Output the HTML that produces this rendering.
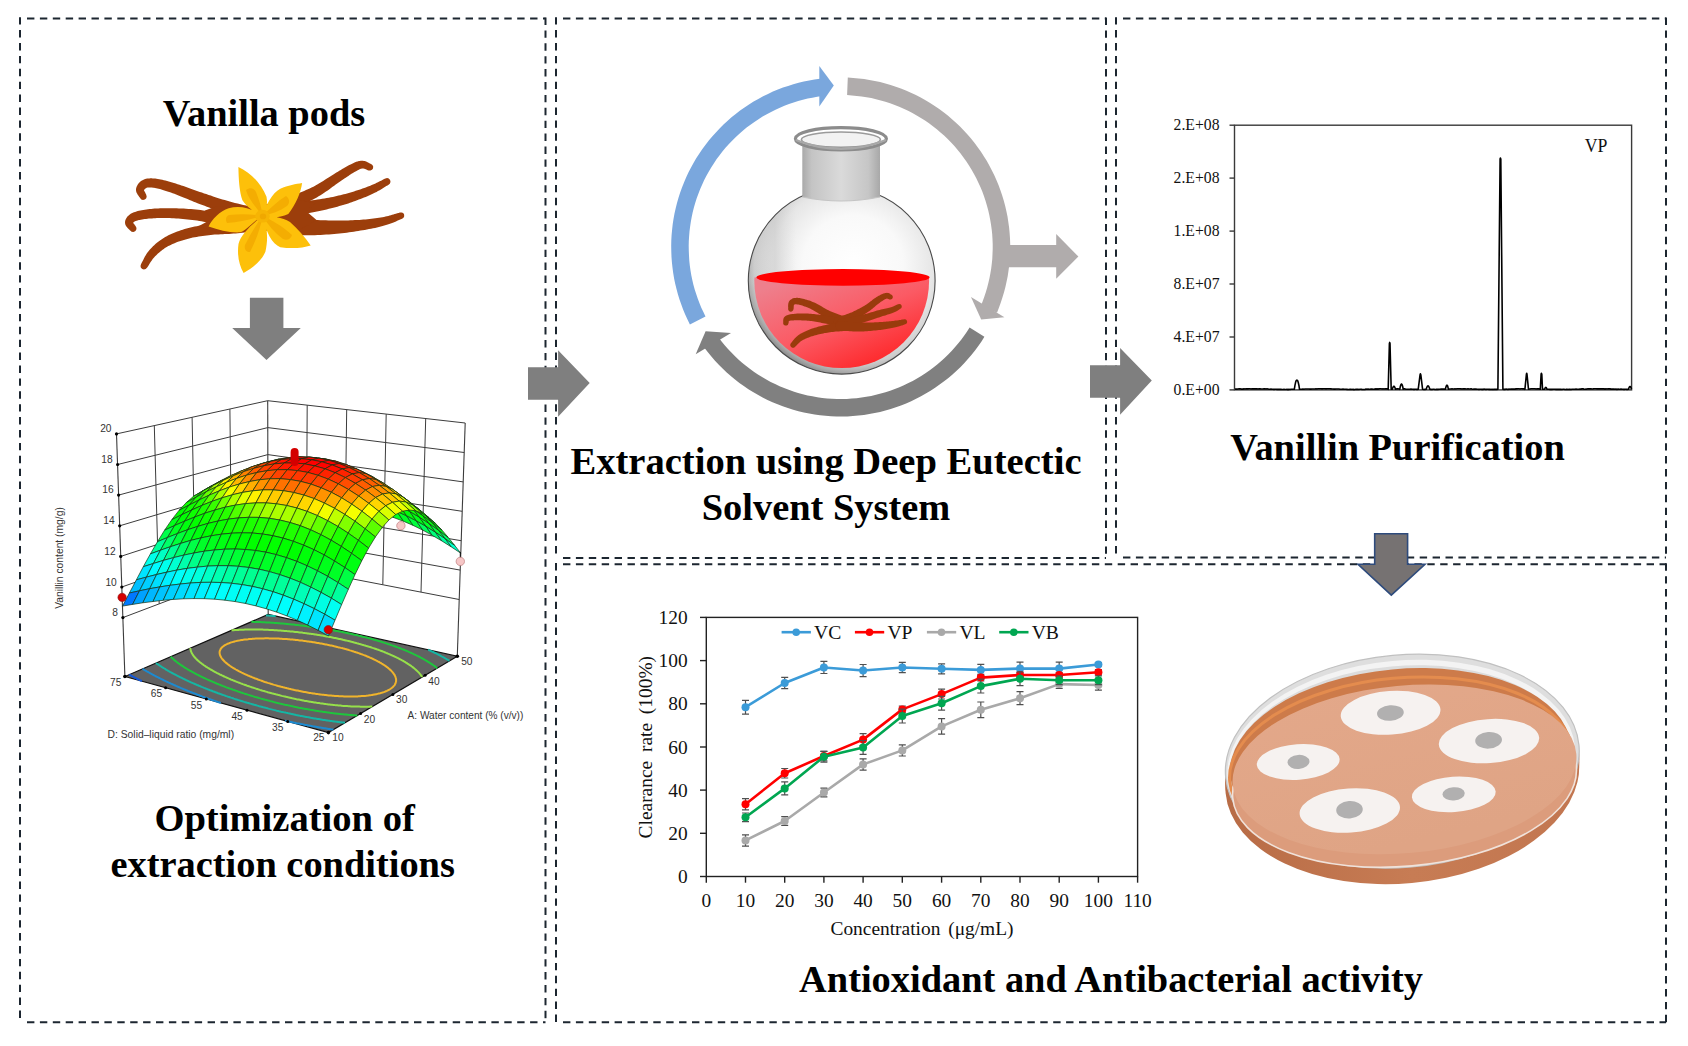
<!DOCTYPE html><html><head><meta charset="utf-8"><title>Vanillin graphical abstract</title><style>html,body{margin:0;padding:0;background:#fff;}body{width:1688px;height:1046px;overflow:hidden;}svg{display:block}</style></head><body>
<svg width="1688" height="1046" viewBox="0 0 1688 1046">
<rect width="1688" height="1046" fill="#fff"/>
<line x1="27" y1="18.5" x2="545.5" y2="18.5" stroke="#1c2630" stroke-width="2" stroke-dasharray="7.4 5.5" stroke-dashoffset="0"/>
<line x1="545.5" y1="17.5" x2="545.5" y2="1022.3" stroke="#1c2630" stroke-width="2" stroke-dasharray="7.4 5.5" stroke-dashoffset="0"/>
<line x1="27" y1="1022.3" x2="545.5" y2="1022.3" stroke="#1c2630" stroke-width="2" stroke-dasharray="7.4 5.5" stroke-dashoffset="0"/>
<line x1="20" y1="17.2" x2="20" y2="1023.3" stroke="#1c2630" stroke-width="2" stroke-dasharray="7.4 5.5" stroke-dashoffset="0"/>
<line x1="563" y1="18.5" x2="1106" y2="18.5" stroke="#1c2630" stroke-width="2" stroke-dasharray="7.4 5.5" stroke-dashoffset="0"/>
<line x1="1106" y1="17.5" x2="1106" y2="558" stroke="#1c2630" stroke-width="2" stroke-dasharray="7.4 5.5" stroke-dashoffset="0"/>
<line x1="563" y1="558" x2="1106" y2="558" stroke="#1c2630" stroke-width="2" stroke-dasharray="7.4 5.5" stroke-dashoffset="0"/>
<line x1="556" y1="17.2" x2="556" y2="559" stroke="#1c2630" stroke-width="2" stroke-dasharray="7.4 5.5" stroke-dashoffset="0"/>
<line x1="1123" y1="18.5" x2="1666" y2="18.5" stroke="#1c2630" stroke-width="2" stroke-dasharray="7.4 5.5" stroke-dashoffset="0"/>
<line x1="1666" y1="17.5" x2="1666" y2="557.5" stroke="#1c2630" stroke-width="2" stroke-dasharray="7.4 5.5" stroke-dashoffset="0"/>
<line x1="1123" y1="557.5" x2="1666" y2="557.5" stroke="#1c2630" stroke-width="2" stroke-dasharray="7.4 5.5" stroke-dashoffset="0"/>
<line x1="1116" y1="17.2" x2="1116" y2="558.5" stroke="#1c2630" stroke-width="2" stroke-dasharray="7.4 5.5" stroke-dashoffset="0"/>
<line x1="563" y1="564.3" x2="1666" y2="564.3" stroke="#1c2630" stroke-width="2" stroke-dasharray="7.4 5.5" stroke-dashoffset="0"/>
<line x1="1666" y1="563.3" x2="1666" y2="1022.3" stroke="#1c2630" stroke-width="2" stroke-dasharray="7.4 5.5" stroke-dashoffset="0"/>
<line x1="563" y1="1022.3" x2="1666" y2="1022.3" stroke="#1c2630" stroke-width="2" stroke-dasharray="7.4 5.5" stroke-dashoffset="0"/>
<line x1="556" y1="563" x2="556" y2="1023.3" stroke="#1c2630" stroke-width="2" stroke-dasharray="7.4 5.5" stroke-dashoffset="0"/>
<text x="264" y="125.6" font-family="'Liberation Serif', 'Times New Roman', serif" font-weight="bold" font-size="38.4" text-anchor="middle" fill="#000">Vanilla pods</text>
<text x="284.6" y="831.2" font-family="'Liberation Serif', 'Times New Roman', serif" font-weight="bold" font-size="38.6" text-anchor="middle" fill="#000">Optimization of</text>
<text x="282.7" y="876.6" font-family="'Liberation Serif', 'Times New Roman', serif" font-weight="bold" font-size="38.4" text-anchor="middle" fill="#000">extraction conditions</text>
<text x="826" y="474" font-family="'Liberation Serif', 'Times New Roman', serif" font-weight="bold" font-size="38.6" text-anchor="middle" fill="#000">Extraction using Deep Eutectic</text>
<text x="826" y="519.8" font-family="'Liberation Serif', 'Times New Roman', serif" font-weight="bold" font-size="38.4" text-anchor="middle" fill="#000">Solvent System</text>
<text x="1397.5" y="460.1" font-family="'Liberation Serif', 'Times New Roman', serif" font-weight="bold" font-size="38.4" text-anchor="middle" fill="#000">Vanillin Purification</text>
<text x="1111" y="992.2" font-family="'Liberation Serif', 'Times New Roman', serif" font-weight="bold" font-size="38.4" text-anchor="middle" fill="#000">Antioxidant and Antibacterial activity</text>
<g id="vanilla">
<path d="M146.3,194.9 L146,194.2 L145.6,193.5 L145.3,192.8 L144.9,192.1 L144.6,191.5 L144.3,191 L144.1,190.5 L143.9,190.2 L143.9,189.9 L143.9,189.8 L143.9,189.9 L144,190.1 L144,190.1 L144.1,190 L144.2,189.8 L144.4,189.5 L144.7,189.2 L145,188.9 L145.3,188.6 L145.6,188.4 L146,188.2 L146.3,188 L146.6,187.8 L147,187.7 L147.4,187.6 L147.9,187.6 L148.4,187.5 L149,187.4 L149.7,187.4 L150.4,187.4 L151.2,187.5 L152,187.6 L153,187.7 L154,187.8 L155,188 L156.2,188.2 L157.4,188.5 L158.6,188.8 L160,189.1 L161.4,189.5 L162.8,190 L164.3,190.4 L165.9,190.9 L167.5,191.5 L169.2,192 L170.9,192.6 L172.6,193.2 L174.4,193.8 L176.1,194.5 L177.9,195.2 L179.7,195.9 L181.6,196.7 L183.5,197.5 L185.5,198.3 L187.5,199.1 L189.5,200 L191.6,200.8 L193.7,201.7 L195.9,202.5 L198.1,203.4 L200.2,204.2 L202.4,205 L204.6,205.8 L206.8,206.7 L209.1,207.5 L211.4,208.4 L213.8,209.3 L216.2,210.1 L218.6,211 L221.1,211.8 L223.7,212.6 L226.3,213.5 L229,214.2 L231.7,215 L234.5,215.8 L237.4,216.5 L240.2,217.3 L243.1,218 L246,218.7 L249,219.4 L251.9,220.1 L254.8,220.9 L257.6,221.6 L260.4,222.3 L263.8,222.2 L266.7,220.5 L268.3,217.6 L268.2,214.2 L266.5,211.3 L263.6,209.7 L260.7,209 L257.8,208.3 L254.9,207.6 L251.9,207 L249,206.3 L246.1,205.6 L243.2,205 L240.4,204.3 L237.6,203.6 L234.9,202.9 L232.3,202.2 L229.7,201.5 L227.2,200.8 L224.8,200.1 L222.4,199.4 L220,198.7 L217.6,197.9 L215.3,197.2 L213.1,196.4 L210.8,195.6 L208.6,194.9 L206.3,194.1 L204.1,193.4 L201.9,192.6 L199.8,191.9 L197.7,191.2 L195.6,190.4 L193.5,189.7 L191.4,189 L189.4,188.2 L187.4,187.5 L185.4,186.8 L183.4,186.1 L181.4,185.4 L179.5,184.8 L177.6,184.2 L175.8,183.6 L174,183 L172.2,182.5 L170.5,182 L168.8,181.5 L167.1,181 L165.4,180.6 L163.8,180.2 L162.3,179.8 L160.7,179.5 L159.3,179.2 L157.8,179 L156.5,178.8 L155.2,178.6 L154,178.5 L152.7,178.4 L151.6,178.3 L150.4,178.3 L149.3,178.4 L148.2,178.5 L147.1,178.6 L146.1,178.8 L145.1,179.1 L144,179.5 L143,179.9 L142,180.5 L141,181.1 L140.2,181.8 L139.4,182.5 L138.7,183.3 L138.1,184.1 L137.5,185 L137,185.9 L136.6,186.8 L136.3,187.8 L136,188.9 L136,190.2 L136.2,191.4 L136.5,192.4 L136.9,193.3 L137.4,194.1 L137.8,194.9 L138.3,195.5 L138.7,196.1 L139.1,196.7 L139.5,197.2 L139.8,197.6 L140.1,198.1 L141.3,199.4 L143,200 L144.8,199.6 L146.1,198.4 L146.7,196.7Z" fill="#9c3e0b"/>
<path d="M135.8,226.4 L135.4,225.8 L134.9,225.2 L134.5,224.6 L134,224 L133.6,223.5 L133.3,223 L133,222.7 L132.8,222.4 L132.8,222.2 L132.8,222.2 L132.9,222.5 L133,222.9 L133,223 L133.1,222.9 L133.1,222.8 L133.3,222.7 L133.4,222.5 L133.6,222.3 L133.9,222.1 L134.2,221.8 L134.6,221.6 L135.1,221.3 L135.6,221.1 L136.2,220.9 L136.9,220.6 L137.7,220.4 L138.7,220.1 L139.7,219.9 L140.8,219.7 L142.1,219.5 L143.3,219.3 L144.7,219.1 L146,218.9 L147.5,218.7 L148.9,218.6 L150.4,218.5 L152,218.4 L153.6,218.3 L155.2,218.2 L156.9,218.1 L158.6,218.1 L160.4,218 L162.2,218 L164,218 L165.9,218 L167.8,218.1 L169.8,218.1 L171.8,218.2 L173.9,218.3 L176.1,218.5 L178.3,218.6 L180.5,218.8 L182.9,219 L185.2,219.2 L187.6,219.5 L189.9,219.7 L192.3,220 L194.7,220.3 L197,220.6 L199.3,221 L201.5,221.3 L203.6,221.7 L205.8,222.2 L208,222.6 L210.2,223.2 L212.4,223.7 L214.7,224.2 L217.1,224.7 L219.6,225.2 L222.1,225.7 L224.7,226.1 L227.4,226.5 L230.1,226.8 L232.9,227 L235.7,227.2 L238.6,227.4 L241.5,227.6 L244.4,227.7 L247.4,227.8 L250.3,228 L253.2,228.1 L256.1,228.2 L258.9,228.3 L261.7,228.5 L265,227.8 L267.5,225.5 L268.5,222.3 L267.8,219 L265.5,216.5 L262.3,215.5 L259.4,215.4 L256.5,215.4 L253.5,215.3 L250.6,215.3 L247.7,215.3 L244.8,215.2 L242,215.2 L239.2,215.1 L236.4,215 L233.7,214.9 L231.1,214.7 L228.6,214.5 L226.2,214.3 L223.9,214 L221.6,213.6 L219.3,213.3 L217.1,212.9 L214.8,212.4 L212.5,212 L210.3,211.5 L207.9,211.1 L205.6,210.7 L203.2,210.4 L200.7,210 L198.3,209.8 L195.9,209.5 L193.4,209.3 L191,209.1 L188.5,208.9 L186,208.8 L183.6,208.6 L181.2,208.5 L178.9,208.4 L176.6,208.3 L174.3,208.2 L172.2,208.2 L170.1,208.2 L168,208.2 L165.9,208.2 L163.9,208.2 L162,208.2 L160.1,208.3 L158.2,208.4 L156.4,208.5 L154.6,208.6 L152.9,208.8 L151.2,208.9 L149.6,209.1 L148,209.3 L146.4,209.5 L144.8,209.7 L143.3,210 L141.8,210.2 L140.4,210.5 L139,210.8 L137.7,211.1 L136.4,211.5 L135.1,211.9 L133.9,212.3 L132.8,212.7 L131.7,213.3 L130.7,213.8 L129.8,214.5 L128.9,215.2 L128.1,215.9 L127.4,216.6 L126.8,217.4 L126.3,218.3 L125.8,219.2 L125.4,220.1 L125.2,221 L125,222.1 L125.1,223.5 L125.4,224.7 L125.9,225.8 L126.4,226.6 L127,227.3 L127.6,227.9 L128.1,228.5 L128.6,229 L129.1,229.4 L129.5,229.8 L129.8,230.2 L130.2,230.6 L131.6,231.7 L133.4,232 L135.1,231.3 L136.2,229.9 L136.5,228.1Z" fill="#9c3e0b"/>
<path d="M147,267.8 L147.7,266.8 L148.4,265.7 L149.1,264.6 L149.7,263.6 L150.3,262.6 L151,261.6 L151.6,260.7 L152.2,259.7 L152.9,258.8 L153.6,258 L154.3,257.2 L155.1,256.3 L156,255.4 L157,254.5 L157.9,253.6 L159,252.7 L160,251.8 L161.1,250.9 L162.2,250 L163.4,249.2 L164.6,248.3 L165.8,247.5 L167.1,246.8 L168.3,246.1 L169.7,245.4 L171.1,244.7 L172.5,244 L174,243.4 L175.6,242.7 L177.2,242.1 L178.8,241.5 L180.5,241 L182.2,240.4 L183.9,239.9 L185.6,239.4 L187.4,238.9 L189.2,238.5 L191,238 L192.8,237.6 L194.7,237.3 L196.7,236.9 L198.6,236.6 L200.6,236.3 L202.6,236 L204.6,235.7 L206.7,235.4 L208.7,235.2 L210.7,235 L212.7,234.8 L214.6,234.6 L216.6,234.5 L218.6,234.4 L220.6,234.3 L222.7,234.2 L224.7,234.1 L226.9,234 L229,233.9 L231.2,233.8 L233.4,233.6 L235.6,233.5 L237.9,233.3 L240.1,233 L242.4,232.8 L244.6,232.6 L246.9,232.3 L249.2,232 L251.5,231.8 L253.8,231.5 L256.1,231.2 L258.3,231 L260.6,230.7 L262.8,230.4 L266,229.2 L268,226.5 L268.4,223.2 L267.2,220 L264.5,218 L261.2,217.6 L258.9,217.9 L256.6,218.2 L254.3,218.6 L252.1,218.9 L249.8,219.3 L247.5,219.7 L245.3,220 L243.1,220.3 L240.8,220.7 L238.7,221 L236.5,221.3 L234.4,221.5 L232.3,221.8 L230.2,222 L228.2,222.2 L226.1,222.4 L224,222.5 L222,222.7 L219.9,222.9 L217.8,223.1 L215.7,223.3 L213.6,223.5 L211.4,223.7 L209.3,224 L207.2,224.4 L205.1,224.7 L203,225 L200.9,225.4 L198.8,225.8 L196.8,226.2 L194.7,226.6 L192.6,227 L190.6,227.5 L188.5,228 L186.6,228.5 L184.6,229.1 L182.7,229.7 L180.8,230.3 L179,230.9 L177.2,231.6 L175.4,232.3 L173.6,233 L171.8,233.8 L170.1,234.5 L168.4,235.3 L166.8,236.2 L165.2,237 L163.7,237.9 L162.2,238.9 L160.7,239.9 L159.3,240.9 L157.9,241.9 L156.6,243 L155.4,244.1 L154.2,245.2 L153,246.3 L151.9,247.4 L150.9,248.5 L149.9,249.6 L148.9,250.7 L147.9,251.9 L147.1,253.1 L146.3,254.3 L145.6,255.4 L144.9,256.6 L144.3,257.8 L143.7,258.9 L143.2,260 L142.7,261.1 L142.1,262.1 L141.6,263.1 L141,264.2 L140.5,265.9 L140.9,267.7 L142.2,269 L143.9,269.5 L145.7,269.1Z" fill="#9c3e0b"/>
<path d="M264.3,219.6 L266.8,218.7 L269.3,217.8 L271.8,216.9 L274.4,215.9 L276.9,215 L279.5,214.1 L282.1,213.1 L284.6,212.2 L287.1,211.3 L289.6,210.3 L292,209.3 L294.3,208.4 L296.6,207.4 L298.8,206.4 L300.9,205.5 L303,204.5 L305,203.5 L307.1,202.5 L309.1,201.5 L311,200.5 L313,199.5 L314.9,198.5 L316.8,197.4 L318.6,196.3 L320.5,195.2 L322.4,194 L324.2,192.8 L326,191.6 L327.7,190.4 L329.4,189.2 L331,188 L332.6,186.8 L334.2,185.7 L335.7,184.6 L337.2,183.5 L338.6,182.5 L340.1,181.5 L341.5,180.5 L343,179.6 L344.4,178.6 L345.7,177.7 L347.1,176.8 L348.4,175.9 L349.6,175.1 L350.8,174.3 L351.9,173.6 L353,172.9 L354,172.3 L355,171.7 L356,171.2 L356.9,170.7 L357.7,170.3 L358.4,169.9 L359.1,169.6 L359.7,169.3 L360.3,169 L360.8,168.8 L361.3,168.7 L361.8,168.6 L362.2,168.5 L362.6,168.4 L362.9,168.4 L363.2,168.5 L363.6,168.5 L364,168.7 L364.5,168.8 L365.1,169 L365.7,169.3 L366.4,169.6 L367.1,169.9 L367.9,170.2 L368.6,170.4 L370.4,170.6 L372,169.8 L373,168.4 L373.2,166.6 L372.4,165 L371,164 L370.4,163.8 L370,163.5 L369.4,163.2 L368.9,162.9 L368.2,162.5 L367.5,162.2 L366.8,161.8 L365.9,161.4 L365,161.1 L364,160.9 L362.9,160.7 L361.8,160.7 L360.7,160.8 L359.7,160.9 L358.8,161.1 L357.8,161.4 L356.9,161.6 L355.9,162 L355,162.3 L354.1,162.8 L353.1,163.2 L352.1,163.7 L351.1,164.2 L350,164.7 L348.8,165.3 L347.5,166 L346.2,166.7 L344.9,167.5 L343.6,168.3 L342.2,169.1 L340.8,170 L339.3,170.8 L337.9,171.7 L336.4,172.6 L334.9,173.5 L333.4,174.5 L331.8,175.4 L330.2,176.4 L328.6,177.5 L326.9,178.5 L325.3,179.6 L323.6,180.7 L321.9,181.7 L320.2,182.8 L318.5,183.8 L316.8,184.8 L315.1,185.8 L313.4,186.7 L311.6,187.6 L309.7,188.4 L307.9,189.3 L306,190.1 L304.1,191 L302.2,191.8 L300.2,192.6 L298.2,193.4 L296.1,194.2 L294,195 L291.9,195.8 L289.7,196.6 L287.4,197.5 L285.1,198.3 L282.7,199.1 L280.3,199.9 L277.8,200.7 L275.2,201.5 L272.7,202.3 L270.1,203.1 L267.5,203.9 L264.9,204.7 L262.3,205.6 L259.7,206.4 L256.7,208.4 L255.1,211.7 L255.4,215.3 L257.4,218.3 L260.7,219.9Z" fill="#9c3e0b"/>
<path d="M263.4,222.9 L266.5,222.2 L269.8,221.5 L273,220.8 L276.3,220 L279.5,219.3 L282.8,218.6 L286,217.9 L289.2,217.2 L292.3,216.6 L295.3,215.9 L298.3,215.3 L301.2,214.6 L303.9,214 L306.6,213.5 L309.3,212.9 L311.9,212.4 L314.5,211.9 L317,211.4 L319.5,210.9 L321.9,210.4 L324.3,209.9 L326.6,209.4 L328.9,208.8 L331.2,208.3 L333.3,207.7 L335.4,207.2 L337.4,206.7 L339.3,206.1 L341.2,205.6 L343,205 L344.8,204.5 L346.5,203.9 L348.3,203.4 L350,202.8 L351.7,202.2 L353.5,201.6 L355.2,200.9 L357,200.3 L358.8,199.6 L360.5,199 L362.3,198.3 L364,197.6 L365.7,196.9 L367.4,196.2 L369,195.5 L370.6,194.8 L372.2,194.1 L373.7,193.3 L375.2,192.6 L376.6,191.9 L377.9,191.1 L379.2,190.4 L380.5,189.7 L381.7,188.9 L382.9,188.2 L384,187.5 L385.2,186.8 L386.3,186.1 L387.5,185.4 L388.6,184.7 L390,183.4 L390.5,181.7 L390.1,180 L388.8,178.6 L387.1,178.1 L385.4,178.5 L384.1,179.1 L382.8,179.8 L381.6,180.4 L380.4,181 L379.2,181.6 L378,182.2 L376.7,182.8 L375.5,183.4 L374.3,184 L373,184.5 L371.7,185.1 L370.3,185.7 L368.8,186.2 L367.3,186.8 L365.8,187.4 L364.2,188 L362.5,188.6 L360.9,189.2 L359.2,189.7 L357.5,190.3 L355.7,190.8 L354,191.4 L352.3,191.9 L350.5,192.4 L348.8,192.9 L347.1,193.4 L345.4,193.9 L343.7,194.3 L342,194.8 L340.3,195.2 L338.5,195.6 L336.7,196.1 L334.8,196.5 L332.9,196.9 L330.9,197.3 L328.8,197.7 L326.7,198.1 L324.5,198.5 L322.2,198.8 L319.9,199.2 L317.5,199.6 L315,199.9 L312.5,200.3 L309.9,200.7 L307.2,201 L304.5,201.5 L301.7,201.9 L298.8,202.4 L295.9,202.9 L292.9,203.4 L289.8,203.9 L286.7,204.5 L283.5,205 L280.2,205.6 L276.9,206.2 L273.6,206.8 L270.4,207.4 L267.1,208 L263.8,208.6 L260.6,209.1 L257.4,210.7 L255.4,213.7 L255.1,217.4 L256.7,220.6 L259.7,222.6Z" fill="#9c3e0b"/>
<path d="M260.9,229.9 L264.1,230.4 L267.2,230.8 L270.4,231.3 L273.6,231.8 L276.8,232.3 L280.1,232.8 L283.3,233.3 L286.6,233.8 L289.8,234.2 L293,234.6 L296.2,234.9 L299.4,235.2 L302.5,235.3 L305.6,235.3 L308.7,235.3 L311.7,235.3 L314.7,235.2 L317.6,235 L320.5,234.9 L323.4,234.7 L326.2,234.6 L328.9,234.4 L331.6,234.2 L334.2,233.9 L336.8,233.7 L339.4,233.5 L341.9,233.2 L344.4,232.9 L346.8,232.7 L349.2,232.3 L351.5,232 L353.8,231.7 L356.1,231.3 L358.3,231 L360.5,230.6 L362.6,230.2 L364.8,229.9 L366.9,229.5 L369,229.1 L371.1,228.7 L373.1,228.3 L375.1,227.9 L377,227.4 L378.9,227 L380.8,226.5 L382.6,226.1 L384.3,225.6 L386,225.1 L387.7,224.6 L389.2,224.1 L390.7,223.6 L392.1,223 L393.5,222.5 L394.7,221.9 L396,221.4 L397.2,220.8 L398.4,220.3 L399.6,219.8 L400.8,219.2 L402.1,218.7 L403.5,217.8 L404.2,216.2 L404.1,214.5 L403.2,213.1 L401.6,212.4 L399.9,212.5 L398.6,212.9 L397.2,213.3 L395.9,213.7 L394.6,214.1 L393.4,214.5 L392.1,214.8 L390.9,215.2 L389.6,215.6 L388.3,215.9 L386.9,216.3 L385.5,216.6 L384,216.9 L382.4,217.2 L380.7,217.5 L379,217.7 L377.2,218 L375.3,218.3 L373.4,218.5 L371.5,218.8 L369.5,219 L367.5,219.2 L365.5,219.4 L363.4,219.6 L361.4,219.8 L359.2,219.9 L357.1,220 L354.9,220.1 L352.7,220.2 L350.5,220.3 L348.2,220.4 L345.9,220.4 L343.6,220.5 L341.2,220.5 L338.8,220.5 L336.3,220.5 L333.8,220.5 L331.2,220.4 L328.5,220.4 L325.8,220.3 L323.1,220.2 L320.4,220.2 L317.6,220.1 L314.8,219.9 L312,219.8 L309.2,219.6 L306.3,219.3 L303.5,219.1 L300.6,218.8 L297.7,218.6 L294.8,218.3 L291.8,218 L288.7,217.6 L285.6,217.2 L282.4,216.8 L279.2,216.3 L276,215.9 L272.8,215.4 L269.5,214.9 L266.3,214.5 L263.1,214.1 L259,214.6 L255.7,217.1 L254.1,220.9 L254.6,225 L257.1,228.3Z" fill="#9c3e0b"/>
<path d="M204.9,210.5 L216,206.5 L262,209 L262,231 L216,231.5 L198,226.5 L212,219 Z" fill="#9c3e0b"/>
<path d="M262,206 L298,199.5 L315.7,203.4 L306,211 L316.8,220.2 L300,229.5 L262,229 Z" fill="#9c3e0b"/>
<path d="M262.5,216 C250,210 246,205 242.4,200.2 C239.5,192 238.6,180 238.4,166.9 C250,172 261,183 266.5,196.7 C268,205 266,211 262.5,216 Z M262.5,216 C266,205 272,193 280.3,188.7 C288,185 296,184 302.1,182.9 C301,192 296,204 288.3,213.9 C280,218 270,218 262.5,216 Z M262.5,216 C272,216 282,217 290,222 C298,229 305,237 310.7,245.5 C303,248 292,249 280.3,247.2 C272,244 266,232 262.5,216 Z M262.5,216 C268,228 268,240 265.4,251.8 C262,260 253,268 243.6,273 C239,265 237,255 238.5,244 C241,234 252,224 262.5,216 Z M262.5,216 C252,222 246,231 240.2,232.3 C230,233 219,230 208.6,226.5 C212,219 220,211 228.7,208.2 C240,205 252,208 262.5,216 Z" fill="#fdc00a"/>
<path d="M262.5,216 C255,206 248,198 246,190 C250,187 254,188 256,192 C259,200 262,208 262.5,216 Z" fill="#f4ad02"/>
<path d="M262.5,216 C270,208 278,201 286,196 C290,199 290,203 287,206 C280,211 271,214 262.5,216 Z" fill="#f4ad02"/>
<path d="M262.5,216 C272,220 282,226 292,235 C291,239 287,241 283,239 C275,233 268,225 262.5,216 Z" fill="#f4ad02"/>
<path d="M262.5,216 C261,227 256,240 250,252 C246,252 244,249 245,245 C250,235 256,225 262.5,216 Z" fill="#f4ad02"/>
<path d="M262.5,216 C252,219 240,222 227,223 C225,220 226,216 229,215 C240,214 252,214 262.5,216 Z" fill="#f4ad02"/>
<ellipse cx="262.5" cy="216.2" rx="7.2" ry="6.4" fill="#f6b404"/>
<ellipse cx="263" cy="216.4" rx="3.2" ry="2.8" fill="#f0a800"/>
</g>
<g id="surf">
<line x1="122.9" y1="617.6" x2="268.1" y2="562.6" stroke="#3c3c3c" stroke-width="1.0"/>
<line x1="268.1" y1="562.6" x2="459.2" y2="599.5" stroke="#3c3c3c" stroke-width="1.0"/>
<line x1="121.8" y1="587" x2="268" y2="535.6" stroke="#3c3c3c" stroke-width="1.0"/>
<line x1="268" y1="535.6" x2="460.2" y2="570.1" stroke="#3c3c3c" stroke-width="1.0"/>
<line x1="120.7" y1="556.4" x2="267.9" y2="508.6" stroke="#3c3c3c" stroke-width="1.0"/>
<line x1="267.9" y1="508.6" x2="461.2" y2="540.7" stroke="#3c3c3c" stroke-width="1.0"/>
<line x1="119.7" y1="525.8" x2="267.9" y2="481.6" stroke="#3c3c3c" stroke-width="1.0"/>
<line x1="267.9" y1="481.6" x2="462.2" y2="511.3" stroke="#3c3c3c" stroke-width="1.0"/>
<line x1="118.6" y1="495.1" x2="267.8" y2="454.6" stroke="#3c3c3c" stroke-width="1.0"/>
<line x1="267.8" y1="454.6" x2="463.2" y2="481.9" stroke="#3c3c3c" stroke-width="1.0"/>
<line x1="117.6" y1="464.5" x2="267.8" y2="427.6" stroke="#3c3c3c" stroke-width="1.0"/>
<line x1="267.8" y1="427.6" x2="464.2" y2="452.5" stroke="#3c3c3c" stroke-width="1.0"/>
<line x1="116.5" y1="433.9" x2="267.7" y2="400.7" stroke="#3c3c3c" stroke-width="1.0"/>
<line x1="267.7" y1="400.7" x2="465.2" y2="423" stroke="#3c3c3c" stroke-width="1.0"/>
<line x1="159.2" y1="603.8" x2="154.3" y2="425.6" stroke="#3c3c3c" stroke-width="1.0"/>
<line x1="195.5" y1="590.1" x2="192.1" y2="417.3" stroke="#3c3c3c" stroke-width="1.0"/>
<line x1="231.8" y1="576.3" x2="229.9" y2="409" stroke="#3c3c3c" stroke-width="1.0"/>
<line x1="306.3" y1="569.9" x2="307.2" y2="405.1" stroke="#3c3c3c" stroke-width="1.0"/>
<line x1="344.5" y1="577.3" x2="346.7" y2="409.6" stroke="#3c3c3c" stroke-width="1.0"/>
<line x1="382.8" y1="584.7" x2="386.2" y2="414.1" stroke="#3c3c3c" stroke-width="1.0"/>
<line x1="421" y1="592.1" x2="425.7" y2="418.6" stroke="#3c3c3c" stroke-width="1.0"/>
<line x1="124.9" y1="676.5" x2="116.5" y2="433.9" stroke="#3c3c3c" stroke-width="1.1"/>
<line x1="268.2" y1="614.5" x2="267.7" y2="400.7" stroke="#3c3c3c" stroke-width="1.1"/>
<line x1="457.3" y1="656.2" x2="465.2" y2="423" stroke="#3c3c3c" stroke-width="1.1"/>
<polygon points="124.9,676.5 328.4,732.6 457.3,656.2 268.2,614.5" fill="#626262" stroke="#111" stroke-width="1.2"/>
<path d="M129.2,674.6 L129.9,675 L130.7,675.4 L131.2,675.7 L131.4,675.8 L132.2,676.2 L132.9,676.6 L133.7,677 L133.7,677 L134.4,677.4 L135.2,677.8 L135.9,678.2 L136.3,678.4 L136.7,678.6 L137.5,679 L138.2,679.4 L139,679.7 L139.1,679.8 L139.8,680.1 L140.6,680.5 L141.3,680.9 L142,681.2" fill="none" stroke="#1458d8" stroke-width="2"/>
<path d="M285,720.6 L285.7,720.8 L286.8,721 L287.9,721.3 L289,721.5 L290.1,721.8 L291.2,722 L292.3,722.2 L293.4,722.5 L294.5,722.7 L295.6,722.9 L296.3,723.1 L296.7,723.2 L297.8,723.4 L298.9,723.6 L300,723.8 L301.1,724.1 L302.3,724.3 L303.4,724.5 L304.5,724.7 L305.3,724.9 L305.6,724.9 L306.8,725.1 L307.9,725.4 L309,725.6 L310.2,725.8 L311.3,726 L312.5,726.2 L313,726.3 L313.6,726.4 L314.7,726.6 L315.9,726.8 L317.1,727 L318.2,727.2 L319.4,727.4 L319.9,727.5 L320.5,727.6 L321.7,727.8 L322.9,728 L324,728.2 L325.2,728.3 L326.2,728.5 L326.4,728.5 L327.5,728.7 L328.7,728.9 L329.9,729.1 L331.1,729.3 L331.9,729.4 L332.3,729.4 L333.5,729.6" fill="none" stroke="#1c8ad0" stroke-width="2"/>
<path d="M142.6,668.8 L143.3,669.3 L144,669.7 L144,669.7 L144.6,670.1 L145.3,670.5 L146,670.9 L146,670.9 L146.7,671.3 L147.5,671.7 L148.1,672.1 L148.2,672.1 L148.9,672.5 L149.6,672.9 L150.3,673.3 L150.3,673.3 L151,673.7 L151.8,674.1 L152.5,674.5 L152.6,674.6 L153.2,674.9 L154,675.3 L154.7,675.7 L155.1,675.9 L155.5,676.1 L156.2,676.5 L157,676.8 L157.7,677.2 L157.7,677.2 L158.5,677.6 L159.3,678 L160,678.4 L160.4,678.6 L160.8,678.8 L161.6,679.2 L162.4,679.5 L163.1,679.9 L163.3,680 L163.9,680.3 L164.7,680.7 L165.5,681.1 L166.3,681.4 L166.4,681.5 L167.1,681.8 L167.9,682.2 L168.7,682.6 L169.5,682.9 L169.7,683 L170.3,683.3 L171.1,683.7 L171.9,684 L172.7,684.4 L173.3,684.7 L173.5,684.8 L174.4,685.1 L175.2,685.5 L176,685.9 L176.9,686.2 L177.1,686.3 L177.7,686.6 L178.5,687 L179.4,687.3 L180.2,687.7 L181,688 L181.2,688.1 L181.9,688.4 L182.7,688.8 L183.6,689.1 L184.4,689.5 L185.3,689.8 L185.8,690 L186.1,690.2 L187,690.5 L187.9,690.9 L188.7,691.2 L189.6,691.6 L190.5,691.9 L190.8,692.1 L191.4,692.3 L192.2,692.6 L193.1,693 L194,693.3 L194.9,693.6 L195.8,694 L196.5,694.3 L196.6,694.3 L197.5,694.7 L198.4,695 L199.3,695.3 L200.2,695.7 L201.1,696 L202,696.4 L202.9,696.7 L203,696.7 L203.8,697 L204.7,697.4 L205.7,697.7 L206.6,698 L207.5,698.3 L208.4,698.7 L209.3,699 L210.3,699.3 L210.8,699.5 L211.2,699.7 L212.1,700 L213,700.3 L214,700.6 L214.9,700.9 L215.8,701.3 L216.8,701.6 L217.7,701.9 L218.7,702.2 L219.6,702.5 L220.6,702.9 L220.9,703" fill="none" stroke="#1c8ad0" stroke-width="2"/>
<path d="M449.4,660.8 L448.8,660.4 L448.2,660 L448.1,660 L447.5,659.6 L446.9,659.3 L446.4,659 L446.2,658.9 L445.5,658.5 L444.9,658.1 L444.5,657.9 L444.2,657.7 L443.5,657.4 L442.9,657 L442.6,656.8 L442.2,656.6 L441.5,656.3 L440.8,655.9 L440.5,655.7 L440.1,655.5 L439.5,655.2 L438.8,654.8 L438.3,654.6 L438.1,654.4 L437.4,654.1 L436.7,653.7 L436,653.4 L436,653.4 L435.3,653 L434.5,652.7 L433.8,652.4 L433.5,652.2 L433.1,652 L432.4,651.7 L431.7,651.3 L431,651 L430.9,651 L430.2,650.7 L429.5,650.3 L428.8,650 L428.1,649.7" fill="none" stroke="#14b6a4" stroke-width="2"/>
<path d="M275.7,616.2 L274.5,616.1 L273.3,616 L272.1,615.9 L271.7,615.8 L270.9,615.8 L269.7,615.7 L268.4,615.6 L267.8,615.6 L267.2,615.5 L265.9,615.5" fill="none" stroke="#14b6a4" stroke-width="2"/>
<path d="M156,663 L156.6,663.5 L157.1,663.8 L157.2,663.9 L157.9,664.3 L158.5,664.8 L158.6,664.8 L159.1,665.2 L159.8,665.6 L160.1,665.8 L160.4,666 L161.1,666.4 L161.7,666.9 L161.8,666.9 L162.4,667.3 L163,667.7 L163.5,668 L163.7,668.1 L164.4,668.5 L165.1,668.9 L165.3,669.1 L165.7,669.4 L166.4,669.8 L167.1,670.2 L167.3,670.3 L167.8,670.6 L168.5,671 L169.2,671.4 L169.3,671.4 L169.9,671.8 L170.6,672.2 L171.4,672.6 L171.5,672.7 L172.1,673 L172.8,673.4 L173.5,673.8 L173.8,673.9 L174.3,674.2 L175,674.5 L175.8,674.9 L176.3,675.2 L176.5,675.3 L177.2,675.7 L178,676.1 L178.8,676.5 L178.9,676.5 L179.5,676.9 L180.3,677.2 L181.1,677.6 L181.7,677.9 L181.8,678 L182.6,678.4 L183.4,678.8 L184.2,679.1 L184.7,679.4 L184.9,679.5 L185.7,679.9 L186.5,680.3 L187.3,680.6 L187.9,680.9 L188.1,681 L188.9,681.4 L189.7,681.7 L190.5,682.1 L191.4,682.5 L191.4,682.5 L192.2,682.8 L193,683.2 L193.8,683.5 L194.6,683.9 L195.2,684.2 L195.5,684.3 L196.3,684.6 L197.1,685 L198,685.3 L198.8,685.7 L199.4,685.9 L199.7,686 L200.5,686.4 L201.3,686.7 L202.2,687.1 L203.1,687.4 L203.9,687.8 L204.1,687.9 L204.8,688.1 L205.6,688.5 L206.5,688.8 L207.4,689.1 L208.2,689.5 L209.1,689.8 L209.4,689.9 L210,690.2 L210.9,690.5 L211.8,690.8 L212.6,691.2 L213.5,691.5 L214.4,691.8 L215.3,692.2 L215.6,692.3 L216.2,692.5 L217.1,692.8 L218,693.2 L218.9,693.5 L219.8,693.8 L220.7,694.1 L221.7,694.5 L222.6,694.8 L223.1,695 L223.5,695.1 L224.4,695.4 L225.3,695.7 L226.3,696.1 L227.2,696.4 L228.1,696.7 L229.1,697 L230,697.3 L230.9,697.6 L231.9,697.9 L232.8,698.3 L233.1,698.3 L233.8,698.6 L234.7,698.9 L235.7,699.2 L236.6,699.5 L237.6,699.8 L238.5,700.1 L239.5,700.4 L240.5,700.7 L241.4,701 L242.4,701.3 L243.4,701.6 L244.3,701.9 L245.3,702.2 L246.3,702.5 L247.3,702.8 L248.3,703 L249.2,703.3 L250.2,703.6 L251.2,703.9 L252.2,704.2 L253.2,704.5 L253.4,704.5 L254.2,704.8 L255.2,705 L256.2,705.3 L257.2,705.6 L258.2,705.9 L259.2,706.2 L260.3,706.4 L261.3,706.7 L262.3,707 L263.3,707.3 L264.3,707.5 L265.4,707.8 L265.8,707.9 L266.4,708.1 L267.4,708.3 L268.4,708.6 L269.5,708.9 L270.5,709.1 L271.6,709.4 L272.6,709.6 L273.6,709.9 L274.7,710.1 L275.7,710.4 L276.8,710.7 L277.9,710.9 L278.9,711.2 L280,711.4 L281,711.7 L282.1,711.9 L283.2,712.1 L284.2,712.4 L285.3,712.6 L286.4,712.9 L287.3,713.1 L287.5,713.1 L288.5,713.4 L289.6,713.6 L290.7,713.8 L291.8,714.1 L292.9,714.3 L294,714.5 L295.1,714.7 L296.2,715 L297.3,715.2 L298.4,715.4 L298.5,715.4 L299.5,715.6 L300.6,715.9 L301.7,716.1 L302.8,716.3 L304,716.5 L305.1,716.7 L306.2,716.9 L307.2,717.1 L307.3,717.1 L308.5,717.3 L309.6,717.5 L310.7,717.8 L311.9,718 L313,718.2 L314.2,718.4 L314.6,718.4 L315.3,718.5 L316.4,718.7 L317.6,718.9 L318.8,719.1 L319.9,719.3 L321.1,719.5 L321.1,719.5 L322.2,719.7 L323.4,719.9 L324.6,720 L325.8,720.2 L326.9,720.4 L327,720.4 L328.1,720.6 L329.3,720.7 L330.5,720.9 L331.7,721.1 L332.4,721.2 L332.9,721.2 L334.1,721.4 L335.3,721.6 L336.5,721.7 L337.4,721.8 L337.7,721.9 L338.9,722 L340.1,722.2 L341.3,722.3 L342.1,722.4 L342.6,722.5 L343.8,722.6 L345,722.7" fill="none" stroke="#14b6a4" stroke-width="2"/>
<path d="M437.2,668.1 L437.1,668.1 L436.6,667.7 L436,667.2 L435.9,667.2 L435.4,666.8 L434.9,666.3 L434.7,666.2 L434.3,665.9 L433.7,665.5 L433.3,665.2 L433.1,665 L432.5,664.6 L431.9,664.3 L431.9,664.2 L431.2,663.8 L430.6,663.4 L430.4,663.3 L430,663 L429.4,662.6 L428.9,662.2 L428.7,662.2 L428.1,661.8 L427.4,661.4 L427.2,661.2 L426.8,661 L426.1,660.6 L425.5,660.2 L425.4,660.1 L424.8,659.8 L424.1,659.4 L423.5,659.1 L423.5,659.1 L422.8,658.7 L422.1,658.3 L421.5,658 L421.4,657.9 L420.7,657.6 L420.1,657.2 L419.4,656.8 L419.3,656.8 L418.7,656.5 L418,656.1 L417.3,655.8 L417,655.6 L416.5,655.4 L415.8,655.1 L415.1,654.7 L414.5,654.4 L414.4,654.4 L413.7,654.1 L412.9,653.7 L412.2,653.4 L411.8,653.2 L411.5,653 L410.7,652.7 L410,652.4 L409.3,652.1 L408.9,651.9 L408.5,651.7 L407.8,651.4 L407,651.1 L406.2,650.8 L405.7,650.5 L405.5,650.4 L404.7,650.1 L404,649.8 L403.2,649.5 L402.4,649.2 L402.2,649.1 L401.6,648.9 L400.9,648.6 L400.1,648.3 L399.3,648 L398.5,647.7 L398.3,647.6 L397.7,647.4 L396.9,647.1 L396.1,646.8 L395.3,646.5 L394.5,646.2 L393.8,646 L393.7,645.9 L392.9,645.6 L392.1,645.4 L391.3,645.1 L390.5,644.8 L389.6,644.5 L388.8,644.2 L388.7,644.2 L388,644 L387.2,643.7 L386.3,643.4 L385.5,643.1 L384.6,642.9 L383.8,642.6 L383,642.3 L382.4,642.2 L382.1,642.1 L381.3,641.8 L380.4,641.6 L379.6,641.3 L378.7,641 L377.8,640.8 L377,640.5 L376.1,640.3 L375.2,640 L374.4,639.8 L374.1,639.7 L373.5,639.5 L372.6,639.3 L371.7,639 L370.9,638.8 L370,638.6 L369.1,638.3 L368.2,638.1 L367.3,637.8 L366.4,637.6 L365.5,637.4 L364.6,637.1 L363.7,636.9 L362.8,636.7 L361.9,636.5 L361,636.2 L360.1,636 L359.1,635.8 L358.7,635.7 L358.2,635.6 L357.3,635.3 L356.4,635.1 L355.4,634.9 L354.5,634.7 L353.6,634.5 L352.6,634.3 L351.7,634 L350.7,633.8 L349.8,633.6 L348.8,633.4 L347.9,633.2 L346.9,633 L346,632.8 L345,632.6 L344,632.4 L343.1,632.2 L342.6,632.1 L342.1,632 L341.1,631.8 L340.1,631.6 L339.2,631.4 L338.2,631.2 L337.2,631.1 L336.2,630.9 L335.2,630.7 L334.2,630.5 L333.2,630.3 L332.2,630.1 L331.2,629.9 L330.2,629.8 L329.2,629.6 L328.2,629.4 L327.1,629.2 L326.1,629.1 L325.9,629 L325.1,628.9 L324.1,628.7 L323,628.6 L322,628.4 L320.9,628.2 L319.9,628.1 L318.9,627.9 L317.8,627.7 L316.7,627.6 L316.3,627.5 L315.7,627.4 L314.6,627.3 L313.6,627.1 L312.5,627 L311.4,626.8 L310.3,626.7 L309.3,626.5 L308.8,626.5 L308.2,626.4 L307.1,626.2 L306,626.1 L304.9,625.9 L303.8,625.8 L302.7,625.7 L302.4,625.6 L301.6,625.5 L300.4,625.4 L299.3,625.3 L298.2,625.1 L297.1,625 L296.7,625 L295.9,624.9 L294.8,624.7 L293.7,624.6 L292.5,624.5 L291.5,624.4 L291.4,624.4 L290.2,624.3 L289,624.2 L287.9,624 L286.7,623.9 L286.7,623.9 L285.5,623.8 L284.3,623.7 L283.2,623.6 L282.2,623.5 L282,623.5 L280.8,623.4 L279.6,623.3 L278.3,623.2 L278.1,623.2 L277.1,623.1 L275.9,623 L274.7,622.9 L274.1,622.9 L273.4,622.8 L272.2,622.8 L270.9,622.7 L270.4,622.6 L269.7,622.6 L268.4,622.5 L267.2,622.5 L266.8,622.4 L265.9,622.4 L264.6,622.3 L263.3,622.3 L263.3,622.2 L262,622.2 L260.7,622.1 L260,622.1 L259.4,622.1 L258,622 L256.9,622 L256.7,622 L255.4,621.9 L254,621.9 L253.8,621.9 L252.6,621.8 L251.3,621.8" fill="none" stroke="#1ec63c" stroke-width="2"/>
<path d="M170.7,656.7 L170.8,656.8 L171.2,657.2 L171.7,657.6 L171.7,657.6 L172.2,658.1 L172.6,658.5 L172.7,658.6 L173.2,659 L173.6,659.4 L173.7,659.5 L174.2,660 L174.6,660.3 L174.8,660.4 L175.3,660.9 L175.7,661.2 L175.9,661.3 L176.5,661.8 L176.9,662.1 L177.1,662.2 L177.6,662.7 L178.2,663.1 L178.2,663.1 L178.8,663.5 L179.4,664 L179.5,664.1 L180,664.4 L180.7,664.8 L181,665.1 L181.3,665.3 L181.9,665.7 L182.5,666.1 L182.6,666.1 L183.2,666.5 L183.8,667 L184.1,667.1 L184.5,667.4 L185.2,667.8 L185.8,668.2 L185.9,668.2 L186.5,668.6 L187.2,669 L187.7,669.4 L187.9,669.4 L188.6,669.8 L189.2,670.2 L189.7,670.5 L189.9,670.6 L190.6,671 L191.4,671.4 L191.8,671.7 L192.1,671.8 L192.8,672.2 L193.5,672.6 L194.1,672.9 L194.2,673 L195,673.4 L195.7,673.8 L196.4,674.2 L196.5,674.2 L197.2,674.6 L197.9,674.9 L198.7,675.3 L199.1,675.6 L199.5,675.7 L200.2,676.1 L201,676.5 L201.8,676.8 L202,676.9 L202.5,677.2 L203.3,677.6 L204.1,678 L204.9,678.3 L205.1,678.4 L205.7,678.7 L206.5,679.1 L207.3,679.4 L208.1,679.8 L208.5,680 L208.9,680.1 L209.7,680.5 L210.5,680.9 L211.3,681.2 L212.1,681.6 L212.2,681.6 L213,681.9 L213.8,682.3 L214.6,682.6 L215.5,683 L216.3,683.3 L216.4,683.4 L217.1,683.7 L218,684 L218.8,684.4 L219.7,684.7 L220.6,685 L221.2,685.3 L221.4,685.4 L222.3,685.7 L223.1,686.1 L224,686.4 L224.9,686.7 L225.8,687.1 L226.6,687.4 L226.7,687.4 L227.5,687.7 L228.4,688 L229.3,688.4 L230.2,688.7 L231.1,689 L232,689.3 L232.9,689.7 L233.5,689.9 L233.8,690 L234.7,690.3 L235.6,690.6 L236.5,690.9 L237.4,691.2 L238.4,691.6 L239.3,691.9 L240.2,692.2 L241.1,692.5 L242.1,692.8 L242.6,693 L243,693.1 L243.9,693.4 L244.9,693.7 L245.8,694 L246.8,694.3 L247.7,694.6 L248.7,694.9 L249.6,695.2 L250.6,695.5 L251.5,695.8 L252.5,696.1 L253.5,696.4 L254.4,696.7 L255.4,697 L256.4,697.2 L257.4,697.5 L258.3,697.8 L259.3,698.1 L260.3,698.4 L260.9,698.6 L261.3,698.7 L262.3,698.9 L263.3,699.2 L264.3,699.5 L265.3,699.8 L266.3,700 L267.3,700.3 L268.3,700.6 L269.3,700.8 L270.3,701.1 L271.4,701.4 L272.4,701.6 L272.8,701.7 L273.4,701.9 L274.4,702.2 L275.5,702.4 L276.5,702.7 L277.5,702.9 L278.6,703.2 L279.6,703.4 L280.7,703.7 L281.7,703.9 L282.8,704.2 L283.8,704.4 L284.9,704.7 L285.9,704.9 L287,705.1 L288.1,705.4 L289.1,705.6 L290.2,705.8 L291.3,706.1 L292.3,706.3 L292.4,706.3 L293.4,706.5 L294.5,706.8 L295.6,707 L296.7,707.2 L297.8,707.4 L298.9,707.7 L300,707.9 L301.1,708.1 L302.2,708.3 L302.6,708.4 L303.3,708.5 L304.4,708.7 L305.6,708.9 L306.7,709.1 L307.8,709.3 L308.9,709.5 L310.1,709.7 L310.6,709.8 L311.2,709.9 L312.3,710.1 L313.5,710.3 L314.6,710.5 L315.8,710.7 L316.9,710.9 L317.4,711 L318.1,711.1 L319.2,711.3 L320.4,711.4 L321.6,711.6 L322.7,711.8 L323.4,711.9 L323.9,712 L325.1,712.1 L326.3,712.3 L327.5,712.5 L328.6,712.6 L328.8,712.6 L329.8,712.8 L331,712.9 L332.2,713.1 L333.4,713.2 L333.7,713.3 L334.7,713.4 L335.9,713.5 L337.1,713.7 L338.3,713.8 L338.3,713.8 L339.6,713.9 L340.8,714.1 L342,714.2 L342.6,714.3 L343.3,714.3 L344.5,714.4 L345.8,714.6 L346.7,714.6 L347,714.7 L348.3,714.8 L349.6,714.9 L350.5,715 L350.8,715 L352.1,715.1 L353.4,715.2 L354.2,715.3 L354.7,715.3 L356,715.4 L357.3,715.5" fill="none" stroke="#1ec63c" stroke-width="2"/>
<path d="M422.2,677 L421.9,676.5 L421.8,676.4 L421.4,675.9 L421.3,675.7 L421,675.3 L420.7,674.9 L420.6,674.7 L420.2,674.2 L420.1,674.1 L419.7,673.7 L419.4,673.3 L419.3,673.1 L418.8,672.6 L418.6,672.4 L418.3,672.1 L417.8,671.6 L417.8,671.6 L417.3,671.1 L416.9,670.7 L416.8,670.6 L416.3,670.2 L415.9,669.8 L415.8,669.7 L415.2,669.2 L414.9,668.9 L414.7,668.7 L414.1,668.3 L413.8,668 L413.6,667.8 L413,667.4 L412.6,667 L412.4,666.9 L411.8,666.5 L411.3,666.1 L411.2,666.1 L410.6,665.6 L410,665.2 L409.9,665.1 L409.4,664.8 L408.8,664.4 L408.4,664.1 L408.2,664 L407.5,663.6 L406.9,663.2 L406.8,663.1 L406.3,662.8 L405.6,662.4 L405.1,662 L405,662 L404.3,661.6 L403.6,661.2 L403.2,661 L403,660.8 L402.3,660.4 L401.6,660.1 L401.2,659.8 L400.9,659.7 L400.2,659.3 L399.5,659 L399,658.7 L398.8,658.6 L398.1,658.2 L397.4,657.9 L396.7,657.5 L396.6,657.5 L396,657.2 L395.3,656.8 L394.5,656.5 L394,656.3 L393.8,656.2 L393.1,655.8 L392.3,655.5 L391.6,655.1 L391.2,655 L390.8,654.8 L390.1,654.5 L389.3,654.2 L388.6,653.8 L388,653.6 L387.8,653.5 L387,653.2 L386.2,652.9 L385.5,652.6 L384.7,652.3 L384.4,652.1 L383.9,651.9 L383.1,651.6 L382.3,651.3 L381.5,651 L380.7,650.7 L380.3,650.6 L379.9,650.4 L379.1,650.1 L378.3,649.8 L377.5,649.6 L376.7,649.3 L375.9,649 L375.4,648.8 L375,648.7 L374.2,648.4 L373.4,648.1 L372.5,647.9 L371.7,647.6 L370.9,647.3 L370,647 L369.3,646.8 L369.2,646.8 L368.3,646.5 L367.5,646.2 L366.6,646 L365.7,645.7 L364.9,645.4 L364,645.2 L363.1,644.9 L362.2,644.7 L361.4,644.4 L360.8,644.3 L360.5,644.2 L359.6,643.9 L358.7,643.7 L357.8,643.4 L356.9,643.2 L356,642.9 L355.1,642.7 L354.2,642.5 L353.3,642.2 L352.4,642 L351.5,641.8 L350.5,641.5 L349.6,641.3 L348.7,641.1 L347.8,640.9 L346.8,640.6 L345.9,640.4 L344.9,640.2 L344,640 L343,639.8 L342.1,639.5 L341.1,639.3 L340.2,639.1 L339.2,638.9 L338.2,638.7 L337.3,638.5 L336.3,638.3 L335.3,638.1 L334.3,637.9 L333.3,637.7 L332.3,637.5 L331.4,637.3 L330.4,637.1 L329.4,636.9 L328.3,636.7 L327.3,636.5 L326.3,636.4 L325.3,636.2 L324.3,636 L324,636 L323.3,635.8 L322.2,635.6 L321.2,635.5 L320.2,635.3 L319.1,635.1 L318.1,635 L317,634.8 L316,634.6 L314.9,634.5 L314.2,634.3 L313.8,634.3 L312.8,634.1 L311.7,634 L310.6,633.8 L309.5,633.7 L308.4,633.5 L307.4,633.4 L306.9,633.3 L306.3,633.2 L305.1,633.1 L304,632.9 L302.9,632.8 L301.8,632.6 L300.7,632.5 L300.7,632.5 L299.6,632.4 L298.4,632.2 L297.3,632.1 L296.1,632 L295.3,631.9 L295,631.9 L293.8,631.7 L292.7,631.6 L291.5,631.5 L290.5,631.4 L290.3,631.4 L289.1,631.3 L288,631.2 L286.8,631.1 L286,631 L285.6,631 L284.3,630.9 L283.1,630.8 L281.9,630.7 L281.9,630.7 L280.7,630.6 L279.4,630.5 L278.2,630.4 L278.1,630.4 L276.9,630.3 L275.7,630.2 L274.4,630.2 L274.4,630.2 L273.1,630.1 L271.8,630 L271,630 L270.5,629.9 L269.2,629.9 L267.9,629.8 L267.7,629.8 L266.6,629.8 L265.2,629.7 L264.6,629.7 L263.9,629.7 L262.5,629.6 L261.6,629.6 L261.2,629.6 L259.8,629.6 L258.8,629.6 L258.4,629.6 L257,629.5 L256,629.5 L255.5,629.5 L254.1,629.5 L253.4,629.5 L252.6,629.5 L251.1,629.5 L250.8,629.5 L249.7,629.5 L248.4,629.5 L248.1,629.6 L246.6,629.6 L246,629.6 L245,629.6 L243.7,629.7 L243.5,629.7 L241.9,629.7 L241.5,629.7 L240.2,629.8 L239.3,629.8 L238.6,629.9 L237.2,629.9 L236.9,630 L235.2,630.1 L235.1,630.1 L233.4,630.2 L233.2,630.2 L231.5,630.3" fill="none" stroke="#96e04a" stroke-width="2"/>
<path d="M190.4,648.1 L190.4,648.2 L190.4,648.8 L190.5,648.9 L190.5,649.4 L190.5,649.5 L190.7,650.1 L190.7,650.2 L190.8,650.7 L190.8,650.8 L191,651.3 L191.1,651.5 L191.2,651.9 L191.4,652.2 L191.5,652.4 L191.7,652.9 L191.7,653 L192,653.5 L192.1,653.6 L192.4,654.1 L192.5,654.3 L192.7,654.6 L193,655.1 L193.1,655.2 L193.4,655.7 L193.5,655.8 L193.8,656.2 L194.1,656.6 L194.2,656.7 L194.7,657.2 L194.8,657.4 L195.1,657.7 L195.6,658.2 L195.6,658.2 L196,658.7 L196.4,659 L196.5,659.2 L197,659.7 L197.2,659.9 L197.5,660.1 L198,660.6 L198.2,660.8 L198.5,661.1 L199.1,661.5 L199.2,661.6 L199.6,662 L200.2,662.4 L200.3,662.6 L200.8,662.9 L201.3,663.3 L201.6,663.5 L201.9,663.8 L202.5,664.2 L202.9,664.5 L203.1,664.6 L203.7,665.1 L204.3,665.5 L204.3,665.5 L205,665.9 L205.6,666.4 L205.8,666.5 L206.2,666.8 L206.9,667.2 L207.4,667.5 L207.5,667.6 L208.2,668 L208.9,668.4 L209.2,668.6 L209.5,668.8 L210.2,669.2 L210.9,669.6 L211.1,669.8 L211.6,670 L212.3,670.4 L213,670.8 L213.2,671 L213.7,671.2 L214.4,671.6 L215.2,672 L215.5,672.2 L215.9,672.4 L216.6,672.8 L217.4,673.2 L218,673.5 L218.1,673.5 L218.9,673.9 L219.6,674.3 L220.4,674.7 L220.7,674.8 L221.2,675 L221.9,675.4 L222.7,675.8 L223.5,676.1 L223.7,676.3 L224.3,676.5 L225.1,676.9 L225.8,677.2 L226.6,677.6 L227.1,677.8 L227.4,677.9 L228.3,678.3 L229.1,678.7 L229.9,679 L230.7,679.4 L230.8,679.4 L231.5,679.7 L232.4,680 L233.2,680.4 L234,680.7 L234.9,681.1 L235.2,681.2 L235.7,681.4 L236.6,681.7 L237.4,682.1 L238.3,682.4 L239.1,682.7 L240,683.1 L240.4,683.2 L240.9,683.4 L241.8,683.7 L242.6,684.1 L243.5,684.4 L244.4,684.7 L245.3,685 L246.2,685.3 L246.9,685.6 L247.1,685.7 L248,686 L248.9,686.3 L249.8,686.6 L250.7,686.9 L251.6,687.2 L252.5,687.5 L253.5,687.8 L254.4,688.1 L255.3,688.4 L256.2,688.7 L256.3,688.7 L257.2,689 L258.1,689.3 L259.1,689.6 L260,689.9 L261,690.2 L261.9,690.5 L262.9,690.8 L263.9,691 L264.8,691.3 L265.8,691.6 L266.8,691.9 L267.7,692.2 L268.7,692.4 L269.7,692.7 L270.7,693 L271.7,693.3 L272.7,693.5 L273.7,693.8 L274.7,694.1 L275.7,694.3 L276.7,694.6 L277.7,694.8 L278.7,695.1 L279.7,695.3 L280.8,695.6 L281.8,695.9 L282.8,696.1 L283.9,696.4 L284.9,696.6 L285.9,696.8 L287,697.1 L288,697.3 L289.1,697.6 L290.1,697.8 L291.2,698 L292.3,698.3 L293.3,698.5 L293.3,698.5 L294.4,698.7 L295.5,698.9 L296.5,699.2 L297.6,699.4 L298.7,699.6 L299.8,699.8 L300.9,700 L302,700.2 L303.1,700.5 L303.8,700.6 L304.2,700.7 L305.3,700.9 L306.4,701.1 L307.5,701.3 L308.7,701.5 L309.8,701.7 L310.9,701.8 L311.5,701.9 L312.1,702 L313.2,702.2 L314.3,702.4 L315.5,702.6 L316.6,702.8 L317.8,702.9 L317.9,703 L319,703.1 L320.1,703.3 L321.3,703.4 L322.5,703.6 L323.5,703.8 L323.7,703.8 L324.9,703.9 L326,704.1 L327.2,704.2 L328.4,704.4 L328.5,704.4 L329.7,704.5 L330.9,704.7 L332.1,704.8 L333.1,704.9 L333.3,704.9 L334.5,705.1 L335.8,705.2 L337,705.3 L337.3,705.3 L338.3,705.4 L339.5,705.5 L340.8,705.6 L341.3,705.7 L342.1,705.8 L343.3,705.9 L344.6,705.9 L345,706 L345.9,706 L347.2,706.1 L348.5,706.2 L348.5,706.2 L349.8,706.3 L351.2,706.4 L351.8,706.4 L352.5,706.4 L353.8,706.5 L354.9,706.5 L355.2,706.5 L356.6,706.6 L357.9,706.6 L357.9,706.6 L359.3,706.6 L360.7,706.7 L360.8,706.7 L362.1,706.7 L363.5,706.7 L363.5,706.7 L364.9,706.7 L366.2,706.7 L366.4,706.7 L367.8,706.7 L368.7,706.7 L369.3,706.7 L370.8,706.6 L371.1,706.6 L372.3,706.6" fill="none" stroke="#96e04a" stroke-width="2"/>
<path d="M384.9,691.7 L385.9,691.3 L386.9,690.9 L387.8,690.4 L388.7,690 L389.5,689.5 L390.3,689 L391,688.5 L391.7,688 L392.3,687.5 L392.9,687 L392.9,687 L393.4,686.4 L393.9,685.9 L394.4,685.3 L394.4,685.3 L394.8,684.7 L395.1,684.1 L395.1,684.1 L395.4,683.5 L395.6,683 L395.6,682.9 L395.8,682.3 L395.9,682 L396,681.7 L396,681.1 L396.1,681 L396.1,680.4 L396.1,680.3 L396.1,679.7 L396.1,679.5 L396,679 L396,678.8 L395.9,678.3 L395.8,678.1 L395.7,677.6 L395.6,677.4 L395.4,676.9 L395.4,676.7 L395.1,676.1 L395.1,676.1 L394.8,675.5 L394.8,675.4 L394.5,674.9 L394.3,674.6 L394.1,674.3 L393.8,673.8 L393.7,673.8 L393.3,673.2 L393.2,673 L392.9,672.7 L392.6,672.2 L392.5,672.1 L392,671.6 L391.8,671.4 L391.6,671.1 L391.1,670.6 L391,670.5 L390.6,670.1 L390.1,669.7 L390.1,669.6 L389.5,669.1 L389.1,668.8 L389,668.7 L388.4,668.2 L388,667.9 L387.9,667.8 L387.3,667.3 L386.8,666.9 L386.7,666.9 L386.1,666.4 L385.5,666 L385.5,666 L384.9,665.6 L384.3,665.2 L384,665 L383.7,664.8 L383,664.4 L382.4,664 L382.4,663.9 L381.7,663.6 L381.1,663.2 L380.6,662.9 L380.4,662.8 L379.7,662.4 L379.1,662 L378.6,661.8 L378.4,661.6 L377.7,661.3 L377,660.9 L376.4,660.6 L376.3,660.5 L375.6,660.2 L374.8,659.8 L374.1,659.5 L373.9,659.4 L373.4,659.1 L372.6,658.8 L371.9,658.4 L371.2,658.1 L371.1,658.1 L370.4,657.8 L369.6,657.4 L368.9,657.1 L368.1,656.8 L367.9,656.7 L367.3,656.5 L366.6,656.1 L365.8,655.8 L365,655.5 L364.2,655.2 L364,655.1 L363.4,654.9 L362.6,654.6 L361.8,654.3 L360.9,654 L360.1,653.7 L359.3,653.4 L359.3,653.4 L358.5,653.1 L357.6,652.8 L356.8,652.5 L355.9,652.3 L355.1,652 L354.2,651.7 L353.4,651.4 L353.1,651.3 L352.5,651.2 L351.7,650.9 L350.8,650.6 L349.9,650.4 L349,650.1 L348.1,649.8 L347.2,649.6 L346.3,649.3 L345.4,649.1 L344.5,648.8 L343.6,648.6 L342.7,648.3 L341.8,648.1 L341.7,648.1 L340.9,647.9 L339.9,647.6 L339,647.4 L338.1,647.2 L337.1,646.9 L336.2,646.7 L335.2,646.5 L334.3,646.3 L333.3,646 L332.4,645.8 L331.4,645.6 L330.4,645.4 L329.4,645.2 L328.4,645 L327.5,644.8 L326.7,644.6 L326.5,644.6 L325.5,644.4 L324.5,644.2 L323.4,644 L322.4,643.8 L321.4,643.6 L320.4,643.4 L319.3,643.2 L318.3,643 L317.3,642.9 L316.2,642.7 L315.2,642.5 L314.1,642.3 L314.1,642.3 L313,642.2 L312,642 L310.9,641.8 L309.8,641.7 L308.7,641.5 L307.6,641.4 L306.5,641.2 L306.5,641.2 L305.4,641.1 L304.3,640.9 L303.2,640.8 L302.1,640.6 L300.9,640.5 L300.6,640.4 L299.8,640.4 L298.6,640.2 L297.5,640.1 L296.3,640 L295.5,639.9 L295.1,639.8 L293.9,639.7 L292.8,639.6 L291.6,639.5 L291,639.5 L290.3,639.4 L289.1,639.3 L287.9,639.2 L287,639.1 L286.7,639.1 L285.4,639 L284.2,638.9 L283.2,638.9 L282.9,638.9 L281.6,638.8 L280.3,638.7 L279.8,638.7 L279,638.6 L277.7,638.6 L276.5,638.5 L276.4,638.5 L275,638.5 L273.7,638.4 L273.5,638.4 L272.3,638.4 L270.9,638.4 L270.6,638.4 L269.5,638.4 L268.1,638.3 L267.9,638.3 L266.6,638.3 L265.3,638.3 L265.2,638.3 L263.7,638.4 L262.8,638.4 L262.1,638.4 L260.6,638.4 L260.4,638.4 L259,638.5 L258.2,638.5 L257.4,638.5 L256,638.6 L255.8,638.6 L254.1,638.7 L254,638.7 L252.3,638.8 L252,638.9 L250.6,639 L250.1,639 L248.7,639.1 L248.3,639.2 L246.8,639.4 L246.5,639.4 L244.8,639.6 L244.7,639.6 L243.2,639.8 L242.6,639.9 L241.6,640 L240.2,640.3 L240.1,640.3 L238.7,640.6 L237.6,640.8 L237.3,640.8 L236,641.1 L234.7,641.4 L234.6,641.5 L233.5,641.8 L232.4,642.1 L231.3,642.4 L230.2,642.8 L229.8,642.9 L229.2,643.2 L228.3,643.5 L227.4,643.9 L226.5,644.3 L225.7,644.7 L225.5,644.9 L224.9,645.2 L224.2,645.6 L223.6,646.1 L223,646.5 L222.6,646.8 L222.4,647 L221.9,647.5 L221.4,648 L221.4,648 L221,648.5 L220.7,649 L220.7,649.1 L220.4,649.6 L220.2,649.9 L220.1,650.1 L219.9,650.7 L219.9,650.8 L219.7,651.3 L219.7,651.5 L219.6,651.9 L219.6,652.3 L219.6,652.5 L219.6,652.9 L219.6,653.1 L219.7,653.6 L219.7,653.7 L219.8,654.2 L219.8,654.4 L220,654.9 L220,655.1 L220.2,655.5 L220.3,655.8 L220.4,656 L220.6,656.5 L220.7,656.6 L221,657.2 L221,657.2 L221.4,657.7 L221.5,657.9 L221.7,658.3 L222,658.7 L222.1,658.8 L222.5,659.3 L222.7,659.5 L222.9,659.8 L223.4,660.3 L223.4,660.3 L223.9,660.8 L224.2,661.1 L224.3,661.3 L224.8,661.8 L225.1,662 L225.4,662.2 L225.9,662.7 L226.1,662.9 L226.4,663.1 L227,663.6 L227.2,663.8 L227.5,664.1 L228.1,664.5 L228.4,664.7 L228.7,664.9 L229.3,665.4 L229.8,665.7 L229.9,665.8 L230.5,666.2 L231.2,666.7 L231.3,666.7 L231.8,667.1 L232.5,667.5 L232.9,667.8 L233.1,667.9 L233.8,668.3 L234.5,668.7 L234.8,668.9 L235.2,669.1 L235.8,669.5 L236.5,669.9 L236.8,670 L237.3,670.3 L238,670.7 L238.7,671.1 L239.1,671.3 L239.4,671.4 L240.2,671.8 L240.9,672.2 L241.7,672.6 L241.7,672.6 L242.4,672.9 L243.2,673.3 L243.9,673.7 L244.6,674 L244.7,674 L245.5,674.4 L246.3,674.7 L247.1,675.1 L247.9,675.5 L248,675.5 L248.7,675.8 L249.5,676.1 L250.3,676.5 L251.2,676.8 L252,677.2 L252,677.2 L252.8,677.5 L253.7,677.8 L254.5,678.2 L255.4,678.5 L256.2,678.8 L256.9,679.1 L257.1,679.1 L257.9,679.5 L258.8,679.8 L259.7,680.1 L260.6,680.4 L261.5,680.7 L262.3,681 L263.2,681.4 L263.6,681.5 L264.1,681.7 L265,682 L266,682.3 L266.9,682.6 L267.8,682.9 L268.7,683.1 L269.7,683.4 L270.6,683.7 L271.5,684 L272.5,684.3 L273.4,684.6 L274.4,684.9 L275.3,685.1 L276.3,685.4 L276.5,685.5 L277.3,685.7 L278.2,686 L279.2,686.2 L280.2,686.5 L281.2,686.8 L282.2,687 L283.2,687.3 L284.2,687.5 L285.2,687.8 L286.2,688 L287.2,688.3 L288.2,688.5 L288.9,688.7 L289.2,688.8 L290.3,689 L291.3,689.3 L292.3,689.5 L293.4,689.7 L294.4,690 L295.5,690.2 L296.5,690.4 L297.6,690.6 L298.7,690.8 L299.8,691.1 L300.8,691.3 L301.9,691.5 L303,691.7 L303,691.7 L304.1,691.9 L305.2,692.1 L306.3,692.3 L307.4,692.5 L308.5,692.7 L309.7,692.9 L310.8,693.1 L310.9,693.1 L311.9,693.2 L313.1,693.4 L314.2,693.6 L315.4,693.8 L316.5,693.9 L317.1,694 L317.7,694.1 L318.9,694.2 L320.1,694.4 L321.2,694.6 L322.3,694.7 L322.4,694.7 L323.6,694.8 L324.8,695 L326.1,695.1 L326.9,695.2 L327.3,695.2 L328.5,695.4 L329.8,695.5 L331,695.6 L331.1,695.6 L332.3,695.7 L333.5,695.8 L334.8,695.9 L334.9,695.9 L336.1,696 L337.4,696.1 L338.4,696.1 L338.7,696.2 L340,696.2 L341.3,696.3 L341.6,696.3 L342.7,696.3 L344,696.4 L344.7,696.4 L345.4,696.4 L346.8,696.5 L347.6,696.5 L348.2,696.5 L349.6,696.5 L350.3,696.5 L351,696.5 L352.5,696.5 L352.9,696.5 L354,696.5 L355.4,696.4 L355.4,696.4 L357,696.4 L357.7,696.4 L358.5,696.3 L359.9,696.3 L360.1,696.2 L361.7,696.1 L362.1,696.1 L363.3,696 L364.1,696 L365,695.9 L366,695.8 L366.7,695.7 L367.9,695.6 L368.5,695.5 L369.7,695.3 L370.3,695.2 L371.4,695.1 L372.2,695 L373,694.8 L374.3,694.6 L374.6,694.5 L376.1,694.2 L376.4,694.2 L377.5,693.9 L378.7,693.6 L378.9,693.6 L380.2,693.3 L381.4,692.9 L381.4,692.9 L382.6,692.5 L383.8,692.1 L384.8,691.7 L384.9,691.7" fill="none" stroke="#f0b42c" stroke-width="2"/>
<circle cx="165.6" cy="687.7" r="1.5" fill="#000"/>
<circle cx="206.3" cy="698.9" r="1.5" fill="#000"/>
<circle cx="247" cy="710.2" r="1.5" fill="#000"/>
<circle cx="287.7" cy="721.4" r="1.5" fill="#000"/>
<circle cx="360.6" cy="713.5" r="1.5" fill="#000"/>
<circle cx="392.9" cy="694.4" r="1.5" fill="#000"/>
<circle cx="425.1" cy="675.3" r="1.5" fill="#000"/>
<circle cx="124.9" cy="676.5" r="1.8" fill="#000"/>
<circle cx="328.4" cy="732.6" r="1.8" fill="#000"/>
<circle cx="457.3" cy="656.2" r="1.8" fill="#000"/>
<circle cx="122.9" cy="617.6" r="1.6" fill="#000"/>
<circle cx="121.8" cy="587" r="1.6" fill="#000"/>
<circle cx="120.7" cy="556.4" r="1.6" fill="#000"/>
<circle cx="119.7" cy="525.8" r="1.6" fill="#000"/>
<circle cx="118.6" cy="495.1" r="1.6" fill="#000"/>
<circle cx="117.6" cy="464.5" r="1.6" fill="#000"/>
<circle cx="116.5" cy="433.9" r="1.6" fill="#000"/>
<text x="111.5" y="432.1" font-family="'Liberation Sans', Arial, sans-serif" font-size="10.2" text-anchor="end" fill="#333">20</text>
<text x="112.6" y="462.6" font-family="'Liberation Sans', Arial, sans-serif" font-size="10.2" text-anchor="end" fill="#333">18</text>
<text x="113.6" y="493.3" font-family="'Liberation Sans', Arial, sans-serif" font-size="10.2" text-anchor="end" fill="#333">16</text>
<text x="114.7" y="523.6" font-family="'Liberation Sans', Arial, sans-serif" font-size="10.2" text-anchor="end" fill="#333">14</text>
<text x="115.7" y="554.5" font-family="'Liberation Sans', Arial, sans-serif" font-size="10.2" text-anchor="end" fill="#333">12</text>
<text x="116.8" y="585.6" font-family="'Liberation Sans', Arial, sans-serif" font-size="10.2" text-anchor="end" fill="#333">10</text>
<text x="117.9" y="616.4" font-family="'Liberation Sans', Arial, sans-serif" font-size="10.2" text-anchor="end" fill="#333">8</text>
<text transform="translate(63.2,558) rotate(-90)" font-family="'Liberation Sans', Arial, sans-serif" font-size="10.3" text-anchor="middle" fill="#333">Vanillin content (mg/g)</text>
<text x="115.7" y="685.9" font-family="'Liberation Sans', Arial, sans-serif" font-size="10.2" text-anchor="middle" fill="#333">75</text>
<text x="156.4" y="697.4" font-family="'Liberation Sans', Arial, sans-serif" font-size="10.2" text-anchor="middle" fill="#333">65</text>
<text x="196.5" y="708.9" font-family="'Liberation Sans', Arial, sans-serif" font-size="10.2" text-anchor="middle" fill="#333">55</text>
<text x="237.1" y="719.9" font-family="'Liberation Sans', Arial, sans-serif" font-size="10.2" text-anchor="middle" fill="#333">45</text>
<text x="277.7" y="730.8" font-family="'Liberation Sans', Arial, sans-serif" font-size="10.2" text-anchor="middle" fill="#333">35</text>
<text x="318.8" y="741.4" font-family="'Liberation Sans', Arial, sans-serif" font-size="10.2" text-anchor="middle" fill="#333">25</text>
<text x="338" y="741.3" font-family="'Liberation Sans', Arial, sans-serif" font-size="10.2" text-anchor="middle" fill="#333">10</text>
<text x="369.5" y="722.7" font-family="'Liberation Sans', Arial, sans-serif" font-size="10.2" text-anchor="middle" fill="#333">20</text>
<text x="401.7" y="703.4" font-family="'Liberation Sans', Arial, sans-serif" font-size="10.2" text-anchor="middle" fill="#333">30</text>
<text x="434" y="684.5" font-family="'Liberation Sans', Arial, sans-serif" font-size="10.2" text-anchor="middle" fill="#333">40</text>
<text x="466.8" y="664.9" font-family="'Liberation Sans', Arial, sans-serif" font-size="10.2" text-anchor="middle" fill="#333">50</text>
<text x="107.6" y="737.6" font-family="'Liberation Sans', Arial, sans-serif" font-size="10.3" fill="#333">D: Solid–liquid ratio (mg/ml)</text>
<text x="407.6" y="719.4" font-family="'Liberation Sans', Arial, sans-serif" font-size="10.1" fill="#333">A: Water content (% (v/v))</text>
<g stroke="#143014" stroke-width="0.7" stroke-linejoin="round">
<polygon points="270.3,508.3 277.6,515.4 268,518 260.6,511.3" fill="#00ffbc"/>
<polygon points="280,505.5 287.3,513.2 277.6,515.4 270.3,508.3" fill="#00ff93"/>
<polygon points="262.9,501.5 270.3,508.3 260.6,511.3 253.2,505" fill="#00ff67"/>
<polygon points="289.7,503.1 296.9,511.2 287.3,513.2 280,505.5" fill="#00ff6f"/>
<polygon points="272.7,498.3 280,505.5 270.3,508.3 262.9,501.5" fill="#00ff3e"/>
<polygon points="299.4,501.1 306.6,509.6 296.9,511.2 289.7,503.1" fill="#00ff50"/>
<polygon points="255.5,495.4 262.9,501.5 253.2,505 245.7,499.4" fill="#00ff24"/>
<polygon points="282.4,495.4 289.7,503.1 280,505.5 272.7,498.3" fill="#00ff22"/>
<polygon points="309.2,499.6 316.3,508.5 306.6,509.6 299.4,501.1" fill="#00ff35"/>
<polygon points="265.3,491.7 272.7,498.3 262.9,501.5 255.5,495.4" fill="#00ff12"/>
<polygon points="292.2,493 299.4,501.1 289.7,503.1 282.4,495.4" fill="#00ff14"/>
<polygon points="318.9,498.5 326,507.7 316.3,508.5 309.2,499.6" fill="#00ff24"/>
<polygon points="248.1,490.2 255.5,495.4 245.7,499.4 238.3,494.7" fill="#00ff09"/>
<polygon points="275.1,488.4 282.4,495.4 272.7,498.3 265.3,491.7" fill="#00ff01"/>
<polygon points="328.7,498 335.7,507.5 326,507.7 318.9,498.5" fill="#00ff1d"/>
<polygon points="302,491 309.2,499.6 299.4,501.1 292.2,493" fill="#00ff08"/>
<polygon points="257.9,486.1 265.3,491.7 255.5,495.4 248.1,490.2" fill="#07ff00"/>
<polygon points="338.5,498 345.4,507.8 335.7,507.5 328.7,498" fill="#00ff17"/>
<polygon points="284.9,485.5 292.2,493 282.4,495.4 275.1,488.4" fill="#0aff00"/>
<polygon points="311.8,489.6 318.9,498.5 309.2,499.6 302,491" fill="#02ff00"/>
<polygon points="240.7,486.2 248.1,490.2 238.3,494.7 230.8,491.1" fill="#0aff00"/>
<polygon points="267.8,482.3 275.1,488.4 265.3,491.7 257.9,486.1" fill="#15ff00"/>
<polygon points="348.2,498.7 355.1,508.6 345.4,507.8 338.5,498" fill="#00ff13"/>
<polygon points="294.8,483.2 302,491 292.2,493 284.9,485.5" fill="#14ff00"/>
<polygon points="321.6,488.8 328.7,498 318.9,498.5 311.8,489.6" fill="#08ff00"/>
<polygon points="250.5,481.7 257.9,486.1 248.1,490.2 240.7,486.2" fill="#19ff00"/>
<polygon points="358,499.9 364.8,510 355.1,508.6 348.2,498.7" fill="#00ff12"/>
<polygon points="277.7,479.1 284.9,485.5 275.1,488.4 267.8,482.3" fill="#21ff00"/>
<polygon points="233.2,483.6 240.7,486.2 230.8,491.1 223.3,488.8" fill="#17ff00"/>
<polygon points="331.5,488.6 338.5,498 328.7,498 321.6,488.8" fill="#0dff00"/>
<polygon points="304.7,481.4 311.8,489.6 302,491 294.8,483.2" fill="#1dff00"/>
<polygon points="367.7,501.8 374.5,512 364.8,510 358,499.9" fill="#00ff12"/>
<polygon points="260.4,477.5 267.8,482.3 257.9,486.1 250.5,481.7" fill="#36ff00"/>
<polygon points="341.3,489 348.2,498.7 338.5,498 331.5,488.6" fill="#10ff00"/>
<polygon points="287.5,476.3 294.8,483.2 284.9,485.5 277.7,479.1" fill="#4cff00"/>
<polygon points="314.5,480.3 321.6,488.8 311.8,489.6 304.7,481.4" fill="#24ff00"/>
<polygon points="243.1,478.7 250.5,481.7 240.7,486.2 233.2,483.6" fill="#36ff00"/>
<polygon points="377.5,504.4 384.2,514.5 374.5,512 367.7,501.8" fill="#00ff14"/>
<polygon points="225.8,482.6 233.2,483.6 223.3,488.8 215.9,488.1" fill="#21ff00"/>
<polygon points="270.3,473.9 277.7,479.1 267.8,482.3 260.4,477.5" fill="#77ff00"/>
<polygon points="351.1,490.2 358,499.9 348.2,498.7 341.3,489" fill="#12ff00"/>
<polygon points="297.5,474.2 304.7,481.4 294.8,483.2 287.5,476.3" fill="#7bff00"/>
<polygon points="324.4,479.8 331.5,488.6 321.6,488.8 314.5,480.3" fill="#3fff00"/>
<polygon points="387.2,507.6 393.8,517.6 384.2,514.5 377.5,504.4" fill="#00ff19"/>
<polygon points="253,474.2 260.4,477.5 250.5,481.7 243.1,478.7" fill="#83ff00"/>
<polygon points="360.9,492 367.7,501.8 358,499.9 351.1,490.2" fill="#12ff00"/>
<polygon points="235.7,477.5 243.1,478.7 233.2,483.6 225.8,482.6" fill="#68ff00"/>
<polygon points="280.3,470.8 287.5,476.3 277.7,479.1 270.3,473.9" fill="#c0ff00"/>
<polygon points="396.9,511.3 403.5,521.3 393.8,517.6 387.2,507.6" fill="#00ff1f"/>
<polygon points="334.3,480 341.3,489 331.5,488.6 324.4,479.8" fill="#51ff00"/>
<polygon points="307.4,472.7 314.5,480.3 304.7,481.4 297.5,474.2" fill="#abff00"/>
<polygon points="218.4,483.4 225.8,482.6 215.9,488.1 208.4,489.1" fill="#2eff00"/>
<polygon points="370.7,494.5 377.5,504.4 367.7,501.8 360.9,492" fill="#10ff00"/>
<polygon points="263,470.2 270.3,473.9 260.4,477.5 253,474.2" fill="#d9ff00"/>
<polygon points="406.5,515.7 413.1,525.4 403.5,521.3 396.9,511.3" fill="#00ff27"/>
<polygon points="344.1,481 351.1,490.2 341.3,489 334.3,480" fill="#5bff00"/>
<polygon points="290.2,468.3 297.5,474.2 287.5,476.3 280.3,470.8" fill="#ffff00"/>
<polygon points="245.7,472.7 253,474.2 243.1,478.7 235.7,477.5" fill="#c6ff00"/>
<polygon points="317.3,472 324.4,479.8 314.5,480.3 307.4,472.7" fill="#d1ff00"/>
<polygon points="380.5,497.7 387.2,507.6 377.5,504.4 370.7,494.5" fill="#0dff00"/>
<polygon points="416.2,520.7 422.7,530.1 413.1,525.4 406.5,515.7" fill="#00ff3d"/>
<polygon points="228.3,478.1 235.7,477.5 225.8,482.6 218.4,483.4" fill="#87ff00"/>
<polygon points="211,486.1 218.4,483.4 208.4,489.1 201,491.8" fill="#32ff00"/>
<polygon points="273,466.8 280.3,470.8 270.3,473.9 263,470.2" fill="#ffe200"/>
<polygon points="354,482.7 360.9,492 351.1,490.2 344.1,481" fill="#5cff00"/>
<polygon points="425.8,526.1 432.2,535.3 422.7,530.1 416.2,520.7" fill="#00ff5a"/>
<polygon points="300.2,466.5 307.4,472.7 297.5,474.2 290.2,468.3" fill="#ffd800"/>
<polygon points="390.2,501.6 396.9,511.3 387.2,507.6 380.5,497.7" fill="#08ff00"/>
<polygon points="327.2,472 334.3,480 324.4,479.8 317.3,472" fill="#ebff00"/>
<polygon points="255.6,468.5 263,470.2 253,474.2 245.7,472.7" fill="#ffe600"/>
<polygon points="238.3,473.2 245.7,472.7 235.7,477.5 228.3,478.1" fill="#edff00"/>
<polygon points="363.9,485.2 370.7,494.5 360.9,492 354,482.7" fill="#55ff00"/>
<polygon points="435.4,532.1 441.8,540.9 432.2,535.3 425.8,526.1" fill="#00ff7a"/>
<polygon points="400,506.2 406.5,515.7 396.9,511.3 390.2,501.6" fill="#02ff00"/>
<polygon points="283,464.1 290.2,468.3 280.3,470.8 273,466.8" fill="#ffb100"/>
<polygon points="220.9,480.7 228.3,478.1 218.4,483.4 211,486.1" fill="#8eff00"/>
<polygon points="203.6,490.6 211,486.1 201,491.8 193.6,496.3" fill="#23ff00"/>
<polygon points="337.2,472.8 344.1,481 334.3,480 327.2,472" fill="#faff00"/>
<polygon points="310.2,465.5 317.3,472 307.4,472.7 300.2,466.5" fill="#ffba00"/>
<polygon points="445,538.4 451.3,546.9 441.8,540.9 435.4,532.1" fill="#00ffa0"/>
<polygon points="265.6,464.8 273,466.8 263,470.2 255.6,468.5" fill="#ffac00"/>
<polygon points="373.7,488.5 380.5,497.7 370.7,494.5 363.9,485.2" fill="#44ff00"/>
<polygon points="409.7,511.4 416.2,520.7 406.5,515.7 400,506.2" fill="#00ff08"/>
<polygon points="248.3,468.7 255.6,468.5 245.7,472.7 238.3,473.2" fill="#ffc700"/>
<polygon points="347.1,474.4 354,482.7 344.1,481 337.2,472.8" fill="#fdff00"/>
<polygon points="293,462 300.2,466.5 290.2,468.3 283,464.1" fill="#ff8c00"/>
<polygon points="454.5,545.2 460.8,553.2 451.3,546.9 445,538.4" fill="#00ffca"/>
<polygon points="320.1,465.3 327.2,472 317.3,472 310.2,465.5" fill="#ffa600"/>
<polygon points="230.9,475.6 238.3,473.2 228.3,478.1 220.9,480.7" fill="#f6ff00"/>
<polygon points="419.3,517.1 425.8,526.1 416.2,520.7 409.7,511.4" fill="#00ff15"/>
<polygon points="196.3,497 203.6,490.6 193.6,496.3 186.3,502.6" fill="#1bff00"/>
<polygon points="383.5,492.5 390.2,501.6 380.5,497.7 373.7,488.5" fill="#2bff00"/>
<polygon points="213.6,485.2 220.9,480.7 211,486.1 203.6,490.6" fill="#79ff00"/>
<polygon points="275.7,461.8 283,464.1 273,466.8 265.6,464.8" fill="#ff7e00"/>
<polygon points="357,476.9 363.9,485.2 354,482.7 347.1,474.4" fill="#f4ff00"/>
<polygon points="429,523.4 435.4,532.1 425.8,526.1 419.3,517.1" fill="#00ff23"/>
<polygon points="393.3,497.2 400,506.2 390.2,501.6 383.5,492.5" fill="#1fff00"/>
<polygon points="303,460.8 310.2,465.5 300.2,466.5 293,462" fill="#ff6f00"/>
<polygon points="330.1,466 337.2,472.8 327.2,472 320.1,465.3" fill="#ff9b00"/>
<polygon points="258.3,464.8 265.6,464.8 255.6,468.5 248.3,468.7" fill="#ff8f00"/>
<polygon points="241,471.1 248.3,468.7 238.3,473.2 230.9,475.6" fill="#ffbf00"/>
<polygon points="189,505.1 196.3,497 186.3,502.6 179,510.4" fill="#0fff00"/>
<polygon points="438.6,530.2 445,538.4 435.4,532.1 429,523.4" fill="#00ff40"/>
<polygon points="206.3,491.7 213.6,485.2 203.6,490.6 196.3,497" fill="#51ff00"/>
<polygon points="223.6,480.2 230.9,475.6 220.9,480.7 213.6,485.2" fill="#e1ff00"/>
<polygon points="366.9,480.2 373.7,488.5 363.9,485.2 357,476.9" fill="#e0ff00"/>
<polygon points="403.1,502.6 409.7,511.4 400,506.2 393.3,497.2" fill="#16ff00"/>
<polygon points="285.7,459.5 293,462 283,464.1 275.7,461.8" fill="#ff5b00"/>
<polygon points="340.1,467.5 347.1,474.4 337.2,472.8 330.1,466" fill="#ff9800"/>
<polygon points="313,460.4 320.1,465.3 310.2,465.5 303,460.8" fill="#ff5d00"/>
<polygon points="448.2,537.4 454.5,545.2 445,538.4 438.6,530.2" fill="#00ff69"/>
<polygon points="268.4,461.7 275.7,461.8 265.6,464.8 258.3,464.8" fill="#ff6100"/>
<polygon points="412.8,508.7 419.3,517.1 409.7,511.4 403.1,502.6" fill="#0dff00"/>
<polygon points="376.8,484.3 383.5,492.5 373.7,488.5 366.9,480.2" fill="#c0ff00"/>
<polygon points="181.8,514.7 189,505.1 179,510.4 171.8,519.7" fill="#00ff00"/>
<polygon points="251,467.1 258.3,464.8 248.3,468.7 241,471.1" fill="#ff8600"/>
<polygon points="199,500 206.3,491.7 196.3,497 189,505.1" fill="#21ff00"/>
<polygon points="233.7,475.6 241,471.1 230.9,475.6 223.6,480.2" fill="#ffce00"/>
<polygon points="295.8,458.1 303,460.8 293,462 285.7,459.5" fill="#ff4300"/>
<polygon points="216.3,486.8 223.6,480.2 213.6,485.2 206.3,491.7" fill="#aeff00"/>
<polygon points="350.1,469.9 357,476.9 347.1,474.4 340.1,467.5" fill="#ff9d00"/>
<polygon points="422.5,515.3 429,523.4 419.3,517.1 412.8,508.7" fill="#02ff00"/>
<polygon points="323,460.9 330.1,466 320.1,465.3 313,460.4" fill="#ff5400"/>
<polygon points="386.6,489.1 393.3,497.2 383.5,492.5 376.8,484.3" fill="#95ff00"/>
<polygon points="278.5,459.2 285.7,459.5 275.7,461.8 268.4,461.7" fill="#ff4200"/>
<polygon points="432.2,522.4 438.6,530.2 429,523.4 422.5,515.3" fill="#00ff0e"/>
<polygon points="174.6,525.5 181.8,514.7 171.8,519.7 164.6,530.2" fill="#00ff1a"/>
<polygon points="360,473.2 366.9,480.2 357,476.9 350.1,469.9" fill="#ffaa00"/>
<polygon points="396.4,494.7 403.1,502.6 393.3,497.2 386.6,489.1" fill="#65ff00"/>
<polygon points="261.1,463.8 268.4,461.7 258.3,464.8 251,467.1" fill="#ff5900"/>
<polygon points="191.8,509.9 199,500 189,505.1 181.8,514.7" fill="#10ff00"/>
<polygon points="305.8,457.5 313,460.4 303,460.8 295.8,458.1" fill="#ff3200"/>
<polygon points="333.1,462.3 340.1,467.5 330.1,466 323,460.9" fill="#ff5000"/>
<polygon points="209.1,495.2 216.3,486.8 206.3,491.7 199,500" fill="#65ff00"/>
<polygon points="243.7,471.6 251,467.1 241,471.1 233.7,475.6" fill="#ff9300"/>
<polygon points="226.4,482.3 233.7,475.6 223.6,480.2 216.3,486.8" fill="#fff400"/>
<polygon points="441.9,530 448.2,537.4 438.6,530.2 432.2,522.4" fill="#00ff20"/>
<polygon points="369.9,477.3 376.8,484.3 366.9,480.2 360,473.2" fill="#ffc000"/>
<polygon points="406.2,501 412.8,508.7 403.1,502.6 396.4,494.7" fill="#32ff00"/>
<polygon points="288.6,457.6 295.8,458.1 285.7,459.5 278.5,459.2" fill="#ff2900"/>
<polygon points="167.5,537.5 174.6,525.5 164.6,530.2 157.5,541.7" fill="#00ff4b"/>
<polygon points="343.1,464.6 350.1,469.9 340.1,467.5 333.1,462.3" fill="#ff5300"/>
<polygon points="315.9,457.8 323,460.9 313,460.4 305.8,457.5" fill="#ff2700"/>
<polygon points="184.7,521.1 191.8,509.9 181.8,514.7 174.6,525.5" fill="#00ff04"/>
<polygon points="271.2,461.2 278.5,459.2 268.4,461.7 261.1,463.8" fill="#ff3a00"/>
<polygon points="416,507.9 422.5,515.3 412.8,508.7 406.2,501" fill="#1bff00"/>
<polygon points="201.9,505.4 209.1,495.2 199,500 191.8,509.9" fill="#20ff00"/>
<polygon points="379.8,482.3 386.6,489.1 376.8,484.3 369.9,477.3" fill="#ffe000"/>
<polygon points="253.9,468.3 261.1,463.8 251,467.1 243.7,471.6" fill="#ff6200"/>
<polygon points="219.2,490.9 226.4,482.3 216.3,486.8 209.1,495.2" fill="#bfff00"/>
<polygon points="236.5,478.4 243.7,471.6 233.7,475.6 226.4,482.3" fill="#ffb400"/>
<polygon points="160.5,550.2 167.5,537.5 157.5,541.7 150.4,553.9" fill="#00ff9b"/>
<polygon points="298.7,456.8 305.8,457.5 295.8,458.1 288.6,457.6" fill="#ff1600"/>
<polygon points="353.1,467.8 360,473.2 350.1,469.9 343.1,464.6" fill="#ff5c00"/>
<polygon points="425.7,515.4 432.2,522.4 422.5,515.3 416,507.9" fill="#0eff00"/>
<polygon points="326,459.1 333.1,462.3 323,460.9 315.9,457.8" fill="#ff2300"/>
<polygon points="177.6,533.5 184.7,521.1 174.6,525.5 167.5,537.5" fill="#00ff22"/>
<polygon points="389.7,488 396.4,494.7 386.6,489.1 379.8,482.3" fill="#f2ff00"/>
<polygon points="281.3,459.5 288.6,457.6 278.5,459.2 271.2,461.2" fill="#ff2000"/>
<polygon points="194.8,517 201.9,505.4 191.8,509.9 184.7,521.1" fill="#0cff00"/>
<polygon points="435.4,523.3 441.9,530 432.2,522.4 425.7,515.4" fill="#00ff00"/>
<polygon points="212,501.3 219.2,490.9 209.1,495.2 201.9,505.4" fill="#5cff00"/>
<polygon points="363.1,472 369.9,477.3 360,473.2 353.1,467.8" fill="#ff6e00"/>
<polygon points="264,465.7 271.2,461.2 261.1,463.8 253.9,468.3" fill="#ff4200"/>
<polygon points="153.4,563.5 160.5,550.2 150.4,553.9 143.3,566.7" fill="#00ffea"/>
<polygon points="399.6,494.5 406.2,501 396.4,494.7 389.7,488" fill="#b1ff00"/>
<polygon points="229.3,487.1 236.5,478.4 226.4,482.3 219.2,490.9" fill="#ffef00"/>
<polygon points="246.6,475.1 253.9,468.3 243.7,471.6 236.5,478.4" fill="#ff8100"/>
<polygon points="308.8,457 315.9,457.8 305.8,457.5 298.7,456.8" fill="#ff0a00"/>
<polygon points="336.1,461.3 343.1,464.6 333.1,462.3 326,459.1" fill="#ff2500"/>
<polygon points="170.5,546.7 177.6,533.5 167.5,537.5 160.5,550.2" fill="#00ff68"/>
<polygon points="187.7,529.7 194.8,517 184.7,521.1 177.6,533.5" fill="#00ff0e"/>
<polygon points="409.4,501.7 416,507.9 406.2,501 399.6,494.5" fill="#6aff00"/>
<polygon points="373,477 379.8,482.3 369.9,477.3 363.1,472" fill="#ff8b00"/>
<polygon points="291.5,458.7 298.7,456.8 288.6,457.6 281.3,459.5" fill="#ff0c00"/>
<polygon points="146.5,577.1 153.4,563.5 143.3,566.7 136.4,579.8" fill="#00e4ff"/>
<polygon points="204.9,513.2 212,501.3 201.9,505.4 194.8,517" fill="#1bff00"/>
<polygon points="346.1,464.5 353.1,467.8 343.1,464.6 336.1,461.3" fill="#ff2e00"/>
<polygon points="318.9,458.2 326,459.1 315.9,457.8 308.8,457" fill="#ff0500"/>
<polygon points="274.1,463.9 281.3,459.5 271.2,461.2 264,465.7" fill="#ff2700"/>
<polygon points="222.1,497.8 229.3,487.1 219.2,490.9 212,501.3" fill="#a9ff00"/>
<polygon points="163.5,560.4 170.5,546.7 160.5,550.2 153.4,563.5" fill="#00ffc4"/>
<polygon points="419.2,509.4 425.7,515.4 416,507.9 409.4,501.7" fill="#28ff00"/>
<polygon points="256.8,472.5 264,465.7 253.9,468.3 246.6,475.1" fill="#ff5a00"/>
<polygon points="239.4,484 246.6,475.1 236.5,478.4 229.3,487.1" fill="#ffb600"/>
<polygon points="383,482.9 389.7,488 379.8,482.3 373,477" fill="#ffaf00"/>
<polygon points="180.7,543.4 187.7,529.7 177.6,533.5 170.5,546.7" fill="#00ff3b"/>
<polygon points="301.6,458.7 308.8,457 298.7,456.8 291.5,458.7" fill="#ff0000"/>
<polygon points="139.5,590.8 146.5,577.1 136.4,579.8 129.4,593" fill="#00bfff"/>
<polygon points="429,517.7 435.4,523.3 425.7,515.4 419.2,509.4" fill="#16ff00"/>
<polygon points="356.1,468.7 363.1,472 353.1,467.8 346.1,464.5" fill="#ff3d00"/>
<polygon points="197.8,526.4 204.9,513.2 194.8,517 187.7,529.7" fill="#03ff00"/>
<polygon points="329,460.3 336.1,461.3 326,459.1 318.9,458.2" fill="#ff0600"/>
<polygon points="392.9,489.5 399.6,494.5 389.7,488 383,482.9" fill="#ffde00"/>
<polygon points="156.6,574.5 163.5,560.4 153.4,563.5 146.5,577.1" fill="#00fbff"/>
<polygon points="215,510 222.1,497.8 212,501.3 204.9,513.2" fill="#37ff00"/>
<polygon points="284.3,463 291.5,458.7 281.3,459.5 274.1,463.9" fill="#ff1200"/>
<polygon points="232.3,494.8 239.4,484 229.3,487.1 222.1,497.8" fill="#f5ff00"/>
<polygon points="267,470.7 274.1,463.9 264,465.7 256.8,472.5" fill="#ff3f00"/>
<polygon points="173.7,557.6 180.7,543.4 170.5,546.7 163.5,560.4" fill="#00ff96"/>
<polygon points="249.6,481.5 256.8,472.5 246.6,475.1 239.4,484" fill="#ff8b00"/>
<polygon points="366.2,473.7 373,477 363.1,472 356.1,468.7" fill="#ff5200"/>
<polygon points="402.8,496.9 409.4,501.7 399.6,494.5 392.9,489.5" fill="#deff00"/>
<polygon points="132.6,604.4 139.5,590.8 129.4,593 122.5,606.1" fill="#0078ff"/>
<polygon points="311.8,459.8 318.9,458.2 308.8,457 301.6,458.7" fill="#ff0000"/>
<polygon points="190.8,540.4 197.8,526.4 187.7,529.7 180.7,543.4" fill="#00ff1f"/>
<polygon points="339.1,463.5 346.1,464.5 336.1,461.3 329,460.3" fill="#ff0e00"/>
<polygon points="149.7,588.7 156.6,574.5 146.5,577.1 139.5,590.8" fill="#00cfff"/>
<polygon points="208,523.4 215,510 204.9,513.2 197.8,526.4" fill="#0fff00"/>
<polygon points="294.5,463 301.6,458.7 291.5,458.7 284.3,463" fill="#ff0400"/>
<polygon points="412.6,504.9 419.2,509.4 409.4,501.7 402.8,496.9" fill="#88ff00"/>
<polygon points="166.8,572.2 173.7,557.6 163.5,560.4 156.6,574.5" fill="#00ffed"/>
<polygon points="376.1,479.6 383,482.9 373,477 366.2,473.7" fill="#ff7000"/>
<polygon points="225.2,507.2 232.3,494.8 222.1,497.8 215,510" fill="#71ff00"/>
<polygon points="277.1,469.7 284.3,463 274.1,463.9 267,470.7" fill="#ff2a00"/>
<polygon points="242.5,492.4 249.6,481.5 239.4,484 232.3,494.8" fill="#ffd600"/>
<polygon points="259.8,479.7 267,470.7 256.8,472.5 249.6,481.5" fill="#ff6700"/>
<polygon points="321.9,461.8 329,460.3 318.9,458.2 311.8,459.8" fill="#ff0000"/>
<polygon points="183.9,555.1 190.8,540.4 180.7,543.4 173.7,557.6" fill="#00ff6c"/>
<polygon points="349.2,467.6 356.1,468.7 346.1,464.5 339.1,463.5" fill="#ff1d00"/>
<polygon points="422.4,513.4 429,517.7 419.2,509.4 412.6,504.9" fill="#3aff00"/>
<polygon points="142.8,602.8 149.7,588.7 139.5,590.8 132.6,604.4" fill="#00a2ff"/>
<polygon points="386.1,486.4 392.9,489.5 383,482.9 376.1,479.6" fill="#ff9c00"/>
<polygon points="201,537.9 208,523.4 197.8,526.4 190.8,540.4" fill="#00ff0f"/>
<polygon points="159.9,586.9 166.8,572.2 156.6,574.5 149.7,588.7" fill="#00deff"/>
<polygon points="304.7,463.9 311.8,459.8 301.6,458.7 294.5,463" fill="#ff0000"/>
<polygon points="218.2,521 225.2,507.2 215,510 208,523.4" fill="#1bff00"/>
<polygon points="359.2,472.6 366.2,473.7 356.1,468.7 349.2,467.6" fill="#ff3200"/>
<polygon points="176.9,570.1 183.9,555.1 173.7,557.6 166.8,572.2" fill="#00ffd1"/>
<polygon points="332.1,464.9 339.1,463.5 329,460.3 321.9,461.8" fill="#ff0000"/>
<polygon points="235.4,505.1 242.5,492.4 232.3,494.8 225.2,507.2" fill="#afff00"/>
<polygon points="287.3,469.7 294.5,463 284.3,463 277.1,469.7" fill="#ff1b00"/>
<polygon points="396,493.9 402.8,496.9 392.9,489.5 386.1,486.4" fill="#ffd100"/>
<polygon points="252.7,490.8 259.8,479.7 249.6,481.5 242.5,492.4" fill="#ffaf00"/>
<polygon points="270,478.8 277.1,469.7 267,470.7 259.8,479.7" fill="#ff5100"/>
<polygon points="194,553 201,537.9 190.8,540.4 183.9,555.1" fill="#00ff47"/>
<polygon points="153,601.5 159.9,586.9 149.7,588.7 142.8,602.8" fill="#00b7ff"/>
<polygon points="369.3,478.5 376.1,479.6 366.2,473.7 359.2,472.6" fill="#ff4d00"/>
<polygon points="314.8,465.9 321.9,461.8 311.8,459.8 304.7,463.9" fill="#ff0000"/>
<polygon points="405.9,502 412.6,504.9 402.8,496.9 396,493.9" fill="#e6ff00"/>
<polygon points="211.2,535.8 218.2,521 208,523.4 201,537.9" fill="#00ff01"/>
<polygon points="342.2,468.9 349.2,467.6 339.1,463.5 332.1,464.9" fill="#ff0e00"/>
<polygon points="170.1,585.3 176.9,570.1 166.8,572.2 159.9,586.9" fill="#00f0ff"/>
<polygon points="228.4,519.1 235.4,505.1 225.2,507.2 218.2,521" fill="#28ff00"/>
<polygon points="297.5,470.6 304.7,463.9 294.5,463 287.3,469.7" fill="#ff1300"/>
<polygon points="187.1,568.4 194,553 183.9,555.1 176.9,570.1" fill="#00ffac"/>
<polygon points="415.8,510.8 422.4,513.4 412.6,504.9 405.9,502" fill="#85ff00"/>
<polygon points="245.6,503.6 252.7,490.8 242.5,492.4 235.4,505.1" fill="#e5ff00"/>
<polygon points="379.3,485.3 386.1,486.4 376.1,479.6 369.3,478.5" fill="#ff7100"/>
<polygon points="280.2,478.7 287.3,469.7 277.1,469.7 270,478.8" fill="#ff4200"/>
<polygon points="262.9,489.9 270,478.8 259.8,479.7 252.7,490.8" fill="#ff9200"/>
<polygon points="204.3,551.2 211.2,535.8 201,537.9 194,553" fill="#00ff28"/>
<polygon points="325,468.8 332.1,464.9 321.9,461.8 314.8,465.9" fill="#ff0300"/>
<polygon points="352.3,473.9 359.2,472.6 349.2,467.6 342.2,468.9" fill="#ff2200"/>
<polygon points="163.2,600.3 170.1,585.3 159.9,586.9 153,601.5" fill="#00c4ff"/>
<polygon points="221.4,534.2 228.4,519.1 218.2,521 211.2,535.8" fill="#09ff00"/>
<polygon points="389.3,492.9 396,493.9 386.1,486.4 379.3,485.3" fill="#ffa300"/>
<polygon points="180.3,584 187.1,568.4 176.9,570.1 170.1,585.3" fill="#00fffc"/>
<polygon points="307.8,472.4 314.8,465.9 304.7,463.9 297.5,470.6" fill="#ff1100"/>
<polygon points="238.6,517.9 245.6,503.6 235.4,505.1 228.4,519.1" fill="#51ff00"/>
<polygon points="362.4,479.8 369.3,478.5 359.2,472.6 352.3,473.9" fill="#ff3d00"/>
<polygon points="290.5,479.6 297.5,470.6 287.3,469.7 280.2,478.7" fill="#ff3900"/>
<polygon points="255.9,502.9 262.9,489.9 252.7,490.8 245.6,503.6" fill="#fff200"/>
<polygon points="197.4,567.1 204.3,551.2 194,553 187.1,568.4" fill="#00ff8b"/>
<polygon points="335.2,472.7 342.2,468.9 332.1,464.9 325,468.8" fill="#ff0f00"/>
<polygon points="273.2,489.9 280.2,478.7 270,478.8 262.9,489.9" fill="#ff7e00"/>
<polygon points="399.2,501.1 405.9,502 396,493.9 389.3,492.9" fill="#ffe100"/>
<polygon points="214.5,550 221.4,534.2 211.2,535.8 204.3,551.2" fill="#00ff1c"/>
<polygon points="173.4,599.4 180.3,584 170.1,585.3 163.2,600.3" fill="#00d0ff"/>
<polygon points="318,475.3 325,468.8 314.8,465.9 307.8,472.4" fill="#ff1700"/>
<polygon points="372.4,486.5 379.3,485.3 369.3,478.5 362.4,479.8" fill="#ff5d00"/>
<polygon points="231.6,533.2 238.6,517.9 228.4,519.1 221.4,534.2" fill="#11ff00"/>
<polygon points="409.2,510 415.8,510.8 405.9,502 399.2,501.1" fill="#c7ff00"/>
<polygon points="345.3,477.6 352.3,473.9 342.2,468.9 335.2,472.7" fill="#ff2300"/>
<polygon points="190.5,583 197.4,567.1 187.1,568.4 180.3,584" fill="#00ffed"/>
<polygon points="248.9,517.3 255.9,502.9 245.6,503.6 238.6,517.9" fill="#72ff00"/>
<polygon points="300.7,481.4 307.8,472.4 297.5,470.6 290.5,479.6" fill="#ff3700"/>
<polygon points="266.1,502.9 273.2,489.9 262.9,489.9 255.9,502.9" fill="#ffdb00"/>
<polygon points="283.4,490.7 290.5,479.6 280.2,478.7 273.2,489.9" fill="#ff7200"/>
<polygon points="207.6,566.1 214.5,550 204.3,551.2 197.4,567.1" fill="#00ff6e"/>
<polygon points="382.5,494 389.3,492.9 379.3,485.3 372.4,486.5" fill="#ff8c00"/>
<polygon points="328.2,479.1 335.2,472.7 325,468.8 318,475.3" fill="#ff2300"/>
<polygon points="224.7,549.2 231.6,533.2 221.4,534.2 214.5,550" fill="#00ff12"/>
<polygon points="355.5,483.4 362.4,479.8 352.3,473.9 345.3,477.6" fill="#ff3d00"/>
<polygon points="183.7,598.8 190.5,583 180.3,584 173.4,599.4" fill="#00dbff"/>
<polygon points="241.9,532.8 248.9,517.3 238.6,517.9 231.6,533.2" fill="#17ff00"/>
<polygon points="310.9,484.1 318,475.3 307.8,472.4 300.7,481.4" fill="#ff3b00"/>
<polygon points="392.5,502.3 399.2,501.1 389.3,492.9 382.5,494" fill="#ffc700"/>
<polygon points="200.8,582.4 207.6,566.1 197.4,567.1 190.5,583" fill="#00ffdd"/>
<polygon points="259.1,517.4 266.1,502.9 255.9,502.9 248.9,517.3" fill="#90ff00"/>
<polygon points="293.7,492.5 300.7,481.4 290.5,479.6 283.4,490.7" fill="#ff6e00"/>
<polygon points="276.4,503.8 283.4,490.7 273.2,489.9 266.1,502.9" fill="#ffcc00"/>
<polygon points="365.6,490.1 372.4,486.5 362.4,479.8 355.5,483.4" fill="#ff5c00"/>
<polygon points="338.3,483.8 345.3,477.6 335.2,472.7 328.2,479.1" fill="#ff3500"/>
<polygon points="217.9,565.7 224.7,549.2 214.5,550 207.6,566.1" fill="#00ff57"/>
<polygon points="402.5,511.2 409.2,510 399.2,501.1 392.5,502.3" fill="#ebff00"/>
<polygon points="235,549 241.9,532.8 231.6,533.2 224.7,549.2" fill="#00ff09"/>
<polygon points="321.1,487.8 328.2,479.1 318,475.3 310.9,484.1" fill="#ff4600"/>
<polygon points="194,598.6 200.8,582.4 190.5,583 183.7,598.8" fill="#00e6ff"/>
<polygon points="252.2,533 259.1,517.4 248.9,517.3 241.9,532.8" fill="#1cff00"/>
<polygon points="375.6,497.5 382.5,494 372.4,486.5 365.6,490.1" fill="#ff8a00"/>
<polygon points="348.5,489.5 355.5,483.4 345.3,477.6 338.3,483.8" fill="#ff4d00"/>
<polygon points="303.9,495.1 310.9,484.1 300.7,481.4 293.7,492.5" fill="#ff7200"/>
<polygon points="269.4,518.3 276.4,503.8 266.1,502.9 259.1,517.4" fill="#a4ff00"/>
<polygon points="211.1,582.3 217.9,565.7 207.6,566.1 200.8,582.4" fill="#00ffc6"/>
<polygon points="286.7,505.5 293.7,492.5 283.4,490.7 276.4,503.8" fill="#ffc700"/>
<polygon points="228.2,565.7 235,549 224.7,549.2 217.9,565.7" fill="#00ff44"/>
<polygon points="385.7,505.7 392.5,502.3 382.5,494 375.6,497.5" fill="#ffc300"/>
<polygon points="331.4,492.3 338.3,483.8 328.2,479.1 321.1,487.8" fill="#ff5700"/>
<polygon points="245.3,549.5 252.2,533 241.9,532.8 235,549" fill="#00ff03"/>
<polygon points="358.7,496 365.6,490.1 355.5,483.4 348.5,489.5" fill="#ff6d00"/>
<polygon points="314.2,498.6 321.1,487.8 310.9,484.1 303.9,495.1" fill="#ff7e00"/>
<polygon points="262.5,534 269.4,518.3 259.1,517.4 252.2,533" fill="#1fff00"/>
<polygon points="204.3,598.7 211.1,582.3 200.8,582.4 194,598.6" fill="#00f1ff"/>
<polygon points="279.7,520 286.7,505.5 276.4,503.8 269.4,518.3" fill="#adff00"/>
<polygon points="296.9,508 303.9,495.1 293.7,492.5 286.7,505.5" fill="#ffca00"/>
<polygon points="395.7,514.5 402.5,511.2 392.5,502.3 385.7,505.7" fill="#f2ff00"/>
<polygon points="221.4,582.5 228.2,565.7 217.9,565.7 211.1,582.3" fill="#00ffb2"/>
<polygon points="341.6,497.8 348.5,489.5 338.3,483.8 331.4,492.3" fill="#ff7000"/>
<polygon points="368.8,503.3 375.6,497.5 365.6,490.1 358.7,496" fill="#ff9d00"/>
<polygon points="238.5,566.3 245.3,549.5 235,549 228.2,565.7" fill="#00ff35"/>
<polygon points="324.4,503.1 331.4,492.3 321.1,487.8 314.2,498.6" fill="#ff9300"/>
<polygon points="255.6,550.5 262.5,534 252.2,533 245.3,549.5" fill="#01ff00"/>
<polygon points="272.8,535.7 279.7,520 269.4,518.3 262.5,534" fill="#21ff00"/>
<polygon points="307.2,511.4 314.2,498.6 303.9,495.1 296.9,508" fill="#ffd600"/>
<polygon points="378.9,511.3 385.7,505.7 375.6,497.5 368.8,503.3" fill="#ffd600"/>
<polygon points="290,522.5 296.9,508 286.7,505.5 279.7,520" fill="#aaff00"/>
<polygon points="214.6,599.2 221.4,582.5 211.1,582.3 204.3,598.7" fill="#00fbff"/>
<polygon points="351.7,504.1 358.7,496 348.5,489.5 341.6,497.8" fill="#ff9600"/>
<polygon points="231.7,583.3 238.5,566.3 228.2,565.7 221.4,582.5" fill="#00ffa3"/>
<polygon points="334.6,508.3 341.6,497.8 331.4,492.3 324.4,503.1" fill="#ffaf00"/>
<polygon points="248.8,567.5 255.6,550.5 245.3,549.5 238.5,566.3" fill="#00ff2b"/>
<polygon points="388.9,520 395.7,514.5 385.7,505.7 378.9,511.3" fill="#daff00"/>
<polygon points="361.9,511.2 368.8,503.3 358.7,496 351.7,504.1" fill="#ffc500"/>
<polygon points="265.9,552.2 272.8,535.7 262.5,534 255.6,550.5" fill="#03ff00"/>
<polygon points="317.5,515.6 324.4,503.1 314.2,498.6 307.2,511.4" fill="#ffeb00"/>
<polygon points="283.1,538.1 290,522.5 279.7,520 272.8,535.7" fill="#21ff00"/>
<polygon points="300.3,525.7 307.2,511.4 296.9,508 290,522.5" fill="#9cff00"/>
<polygon points="224.9,600.2 231.7,583.3 221.4,582.5 214.6,599.2" fill="#00fffc"/>
<polygon points="344.8,514.4 351.7,504.1 341.6,497.8 334.6,508.3" fill="#ffd600"/>
<polygon points="242,584.6 248.8,567.5 238.5,566.3 231.7,583.3" fill="#00ff98"/>
<polygon points="372,519 378.9,511.3 368.8,503.3 361.9,511.2" fill="#feff00"/>
<polygon points="259.1,569.2 265.9,552.2 255.6,550.5 248.8,567.5" fill="#00ff27"/>
<polygon points="327.7,520.7 334.6,508.3 324.4,503.1 317.5,515.6" fill="#f2ff00"/>
<polygon points="276.2,554.6 283.1,538.1 272.8,535.7 265.9,552.2" fill="#03ff00"/>
<polygon points="310.6,529.8 317.5,515.6 307.2,511.4 300.3,525.7" fill="#83ff00"/>
<polygon points="293.4,541.3 300.3,525.7 290,522.5 283.1,538.1" fill="#1fff00"/>
<polygon points="382.2,527.5 388.9,520 378.9,511.3 372,519" fill="#a5ff00"/>
<polygon points="355,521.2 361.9,511.2 351.7,504.1 344.8,514.4" fill="#f5ff00"/>
<polygon points="235.2,601.6 242,584.6 231.7,583.3 224.9,600.2" fill="#00fff7"/>
<polygon points="252.3,586.4 259.1,569.2 248.8,567.5 242,584.6" fill="#00ff92"/>
<polygon points="338,526.5 344.8,514.4 334.6,508.3 327.7,520.7" fill="#bfff00"/>
<polygon points="269.4,571.6 276.2,554.6 265.9,552.2 259.1,569.2" fill="#00ff27"/>
<polygon points="320.8,534.6 327.7,520.7 317.5,515.6 310.6,529.8" fill="#64ff00"/>
<polygon points="365.2,528.8 372,519 361.9,511.2 355,521.2" fill="#a9ff00"/>
<polygon points="286.5,557.7 293.4,541.3 283.1,538.1 276.2,554.6" fill="#01ff00"/>
<polygon points="303.7,545.2 310.6,529.8 300.3,525.7 293.4,541.3" fill="#1bff00"/>
<polygon points="348.2,533.1 355,521.2 344.8,514.4 338,526.5" fill="#81ff00"/>
<polygon points="245.6,603.5 252.3,586.4 242,584.6 235.2,601.6" fill="#00fff4"/>
<polygon points="375.4,536.9 382.2,527.5 372,519 365.2,528.8" fill="#5cff00"/>
<polygon points="262.7,588.8 269.4,571.6 259.1,569.2 252.3,586.4" fill="#00ff90"/>
<polygon points="331.1,540.2 338,526.5 327.7,520.7 320.8,534.6" fill="#3fff00"/>
<polygon points="279.7,574.6 286.5,557.7 276.2,554.6 269.4,571.6" fill="#00ff28"/>
<polygon points="314,549.7 320.8,534.6 310.6,529.8 303.7,545.2" fill="#16ff00"/>
<polygon points="296.9,561.4 303.7,545.2 293.4,541.3 286.5,557.7" fill="#00ff02"/>
<polygon points="358.4,540.3 365.2,528.8 355,521.2 348.2,533.1" fill="#48ff00"/>
<polygon points="341.3,546.4 348.2,533.1 338,526.5 331.1,540.2" fill="#20ff00"/>
<polygon points="255.9,605.9 262.7,588.8 252.3,586.4 245.6,603.5" fill="#00fff3"/>
<polygon points="273,591.7 279.7,574.6 269.4,571.6 262.7,588.8" fill="#00ff94"/>
<polygon points="324.3,555 331.1,540.2 320.8,534.6 314,549.7" fill="#10ff00"/>
<polygon points="290.1,578.2 296.9,561.4 286.5,557.7 279.7,574.6" fill="#00ff30"/>
<polygon points="368.6,548.1 375.4,536.9 365.2,528.8 358.4,540.3" fill="#1eff00"/>
<polygon points="307.2,565.8 314,549.7 303.7,545.2 296.9,561.4" fill="#00ff09"/>
<polygon points="351.6,553.3 358.4,540.3 348.2,533.1 341.3,546.4" fill="#16ff00"/>
<polygon points="266.3,608.8 273,591.7 262.7,588.8 255.9,605.9" fill="#00fff4"/>
<polygon points="334.5,561 341.3,546.4 331.1,540.2 324.3,555" fill="#07ff00"/>
<polygon points="283.3,595.2 290.1,578.2 279.7,574.6 273,591.7" fill="#00ff9b"/>
<polygon points="317.5,570.8 324.3,555 314,549.7 307.2,565.8" fill="#00ff11"/>
<polygon points="300.4,582.3 307.2,565.8 296.9,561.4 290.1,578.2" fill="#00ff3e"/>
<polygon points="361.8,560.7 368.6,548.1 358.4,540.3 351.6,553.3" fill="#0aff00"/>
<polygon points="344.8,567.5 351.6,553.3 341.3,546.4 334.5,561" fill="#00ff03"/>
<polygon points="327.8,576.4 334.5,561 324.3,555 317.5,570.8" fill="#00ff1b"/>
<polygon points="276.6,612.1 283.3,595.2 273,591.7 266.3,608.8" fill="#00fff7"/>
<polygon points="293.7,599.2 300.4,582.3 290.1,578.2 283.3,595.2" fill="#00ffa8"/>
<polygon points="310.7,587.1 317.5,570.8 307.2,565.8 300.4,582.3" fill="#00ff4f"/>
<polygon points="355,574.6 361.8,560.7 351.6,553.3 344.8,567.5" fill="#00ff12"/>
<polygon points="338.1,582.6 344.8,567.5 334.5,561 327.8,576.4" fill="#00ff26"/>
<polygon points="321,592.4 327.8,576.4 317.5,570.8 310.7,587.1" fill="#00ff65"/>
<polygon points="287,616 293.7,599.2 283.3,595.2 276.6,612.1" fill="#00fffc"/>
<polygon points="304,603.7 310.7,587.1 300.4,582.3 293.7,599.2" fill="#00ffb8"/>
<polygon points="348.3,589.3 355,574.6 344.8,567.5 338.1,582.6" fill="#00ff44"/>
<polygon points="331.4,598.2 338.1,582.6 327.8,576.4 321,592.4" fill="#00ff7f"/>
<polygon points="314.4,608.7 321,592.4 310.7,587.1 304,603.7" fill="#00ffcd"/>
<polygon points="297.4,620.3 304,603.7 293.7,599.2 287,616" fill="#00faff"/>
<polygon points="341.6,604.6 348.3,589.3 338.1,582.6 331.4,598.2" fill="#00ff9f"/>
<polygon points="324.7,614.2 331.4,598.2 321,592.4 314.4,608.7" fill="#00ffe3"/>
<polygon points="307.7,625.1 314.4,608.7 304,603.7 297.4,620.3" fill="#00f1ff"/>
<polygon points="335,620.2 341.6,604.6 331.4,598.2 324.7,614.2" fill="#00fff2"/>
<polygon points="318.1,630.3 324.7,614.2 314.4,608.7 307.7,625.1" fill="#00e6ff"/>
<polygon points="328.4,635.9 335,620.2 324.7,614.2 318.1,630.3" fill="#00dbff"/>
</g>
<circle cx="122.1" cy="597.4" r="4.2" fill="#d40000" stroke="#8a1010" stroke-width="0.6"/>
<circle cx="328.3" cy="629.7" r="4.2" fill="#d40000" stroke="#8a1010" stroke-width="0.6"/>
<path d="M294.6,452 V462" stroke="#d40000" stroke-width="8" stroke-linecap="round"/>
<line x1="460.3" y1="552" x2="460.3" y2="561" stroke="#111" stroke-width="1"/>
<circle cx="460.3" cy="561.4" r="4.2" fill="#f6c6c6" stroke="#c08080" stroke-width="0.7"/>
<circle cx="400.9" cy="525.7" r="4.2" fill="#f6c6c6" stroke="#c08080" stroke-width="0.7"/>
</g>
<g id="flask">
<defs><radialGradient id="bulbG" cx="0.56" cy="0.42" r="0.6"><stop offset="0" stop-color="#ffffff"/><stop offset="0.45" stop-color="#f9f9f9"/><stop offset="0.72" stop-color="#e6e6e6"/><stop offset="0.88" stop-color="#cdcdcd"/><stop offset="0.95" stop-color="#ababab"/><stop offset="1" stop-color="#8a8a8a"/></radialGradient><linearGradient id="bulbL" x1="0" y1="0" x2="1" y2="0"><stop offset="0" stop-color="#c8c8c8" stop-opacity="0"/><stop offset="0.45" stop-color="#c8c8c8" stop-opacity="0.5"/><stop offset="0.8" stop-color="#d8d8d8" stop-opacity="0"/></linearGradient><linearGradient id="neckG" x1="0" y1="0" x2="1" y2="0"><stop offset="0" stop-color="#a9a9a9"/><stop offset="0.12" stop-color="#c4c4c4"/><stop offset="0.5" stop-color="#dadada"/><stop offset="0.85" stop-color="#c6c6c6"/><stop offset="1" stop-color="#a8a8a8"/></linearGradient><linearGradient id="liqG" x1="0.1" y1="0.1" x2="0.8" y2="1"><stop offset="0" stop-color="#ee7f8c"/><stop offset="0.45" stop-color="#fb5a64"/><stop offset="1" stop-color="#ff1616"/></linearGradient><clipPath id="bulbClip"><circle cx="841.7" cy="280.7" r="92.6"/></clipPath><clipPath id="liqClip"><circle cx="841.7" cy="280.7" r="87.4"/></clipPath></defs>
<path d="M689.9,324.5 L687.5,319.6 L685.3,314.7 L683.2,309.7 L681.3,304.6 L679.5,299.4 L677.9,294.2 L676.5,289 L675.2,283.7 L674.1,278.4 L673.2,273.1 L672.5,267.7 L671.9,262.3 L671.5,256.9 L671.3,251.4 L671.2,246 L671.3,240.6 L671.6,235.1 L672.1,229.7 L672.7,224.3 L673.5,219 L674.5,213.6 L675.7,208.3 L677,203.1 L678.5,197.8 L680.1,192.7 L682,187.6 L684,182.5 L686.1,177.5 L688.4,172.6 L690.9,167.8 L693.5,163 L696.2,158.3 L699.2,153.7 L702.2,149.3 L705.4,144.9 L708.8,140.6 L712.2,136.4 L715.9,132.4 L719.6,128.4 L723.5,124.6 L727.4,120.9 L731.5,117.3 L735.7,113.9 L740.1,110.6 L744.5,107.5 L749,104.4 L753.6,101.6 L758.3,98.9 L763.1,96.3 L768,93.9 L772.9,91.6 L777.9,89.6 L783,87.6 L788.1,85.9 L793.3,84.3 L798.6,82.8 L803.8,81.6 L809.2,80.5 L814.5,79.5 L819.9,78.8 L822,96.1 L817.2,96.8 L812.4,97.7 L807.7,98.6 L802.9,99.8 L798.2,101.1 L793.6,102.5 L789,104.1 L784.4,105.8 L779.9,107.7 L775.5,109.7 L771.1,111.9 L766.8,114.2 L762.6,116.6 L758.5,119.2 L754.4,121.9 L750.5,124.7 L746.6,127.6 L742.8,130.7 L739.1,133.9 L735.6,137.2 L732.1,140.7 L728.7,144.2 L725.5,147.8 L722.4,151.6 L719.4,155.4 L716.5,159.3 L713.8,163.4 L711.2,167.5 L708.7,171.7 L706.3,175.9 L704.1,180.3 L702.1,184.7 L700.1,189.2 L698.4,193.7 L696.7,198.3 L695.2,202.9 L693.9,207.6 L692.7,212.3 L691.7,217.1 L690.8,221.9 L690.1,226.7 L689.5,231.5 L689.1,236.4 L688.8,241.2 L688.7,246.1 L688.8,251 L689,255.8 L689.3,260.7 L689.8,265.5 L690.5,270.4 L691.3,275.2 L692.3,279.9 L693.4,284.7 L694.7,289.4 L696.2,294 L697.7,298.6 L699.5,303.2 L701.3,307.7 L703.4,312.1 L705.5,316.5Z" fill="#7aa7dd"/>
<polygon points="819.3,66 833.8,85.6 819.3,106.4" fill="#7aa7dd"/>
<path d="M847.8,77.6 L853.2,78 L858.7,78.5 L864.1,79.1 L869.4,80 L874.8,81 L880.1,82.1 L885.4,83.5 L890.6,85 L895.8,86.7 L900.9,88.5 L905.9,90.6 L910.9,92.7 L915.9,95.1 L920.7,97.6 L925.5,100.2 L930.1,103 L934.7,106 L939.2,109 L943.6,112.3 L947.8,115.6 L952,119.2 L956,122.8 L960,126.6 L963.8,130.5 L967.5,134.5 L971,138.6 L974.4,142.8 L977.7,147.2 L980.8,151.6 L983.8,156.2 L986.7,160.8 L989.3,165.6 L991.9,170.4 L994.3,175.3 L996.5,180.2 L998.6,185.3 L1000.5,190.4 L1002.2,195.5 L1003.8,200.7 L1005.2,206 L1006.4,211.3 L1007.5,216.6 L1008.3,222 L1009.1,227.4 L1009.6,232.8 L1010,238.2 L1010.2,243.7 L1010.2,249.1 L1010,254.6 L1009.7,260 L1009.2,265.4 L1008.5,270.8 L1007.7,276.2 L1006.6,281.5 L1005.4,286.9 L1004.1,292.1 L1002.5,297.3 L1000.8,302.5 L999,307.6 L997,312.7 L980.8,305.9 L982.6,301.4 L984.3,296.8 L985.8,292.2 L987.2,287.5 L988.4,282.7 L989.5,278 L990.4,273.2 L991.2,268.4 L991.8,263.5 L992.3,258.7 L992.5,253.8 L992.7,248.9 L992.7,244 L992.5,239.2 L992.2,234.3 L991.7,229.4 L991,224.6 L990.2,219.8 L989.3,215 L988.2,210.2 L986.9,205.5 L985.5,200.8 L984,196.2 L982.3,191.6 L980.4,187.1 L978.4,182.7 L976.3,178.3 L974,174 L971.6,169.7 L969,165.6 L966.4,161.5 L963.5,157.5 L960.6,153.6 L957.5,149.8 L954.4,146.1 L951.1,142.5 L947.7,139 L944.1,135.6 L940.5,132.4 L936.8,129.2 L932.9,126.2 L929,123.3 L925,120.5 L920.9,117.9 L916.7,115.4 L912.4,113 L908.1,110.8 L903.7,108.7 L899.2,106.7 L894.7,104.9 L890.1,103.2 L885.4,101.7 L880.8,100.4 L876,99.2 L871.3,98.1 L866.5,97.2 L861.6,96.4 L856.8,95.9 L851.9,95.4 L847.1,95.1Z" fill="#b0acac"/>
<polygon points="1004.4,317.2 981.2,319.6 971,296.9" fill="#b0acac"/>
<polygon points="1000,245.1 1056.2,245.1 1056.2,233.9 1078.4,256.6 1056.2,278.7 1056.2,267.3 1000,267.3" fill="#b0acac"/>
<path d="M984.4,336.8 L981.5,341.4 L978.3,345.9 L975,350.4 L971.6,354.7 L968.1,358.8 L964.4,362.9 L960.6,366.9 L956.6,370.7 L952.5,374.4 L948.4,377.9 L944.1,381.3 L939.6,384.6 L935.1,387.8 L930.5,390.7 L925.8,393.6 L921,396.3 L916.1,398.8 L911.2,401.2 L906.1,403.4 L901,405.4 L895.9,407.3 L890.7,409 L885.4,410.5 L880.1,411.9 L874.7,413.1 L869.3,414.1 L863.9,414.9 L858.4,415.6 L852.9,416.1 L847.5,416.4 L842,416.5 L836.5,416.4 L831,416.2 L825.5,415.8 L820,415.2 L814.6,414.5 L809.2,413.5 L803.8,412.4 L798.5,411.2 L793.2,409.7 L787.9,408.1 L782.7,406.3 L777.6,404.3 L772.5,402.2 L767.5,399.9 L762.6,397.4 L757.8,394.8 L753,392.1 L748.4,389.2 L743.8,386.1 L739.4,382.9 L735,379.5 L730.8,376 L726.7,372.4 L722.6,368.6 L718.8,364.7 L715,360.7 L711.4,356.6 L707.9,352.3 L704.6,348 L718.6,337.6 L721.6,341.5 L724.7,345.3 L728,349 L731.4,352.6 L734.8,356.1 L738.4,359.4 L742.1,362.7 L745.9,365.8 L749.8,368.8 L753.8,371.7 L757.9,374.5 L762.1,377.1 L766.3,379.6 L770.7,381.9 L775.1,384.1 L779.6,386.2 L784.1,388.1 L788.7,389.8 L793.4,391.4 L798.1,392.9 L802.8,394.2 L807.6,395.4 L812.4,396.3 L817.3,397.2 L822.2,397.9 L827.1,398.4 L832,398.8 L836.9,399 L841.8,399 L846.8,398.9 L851.7,398.6 L856.6,398.2 L861.5,397.6 L866.3,396.8 L871.2,395.9 L876,394.8 L880.8,393.6 L885.5,392.2 L890.2,390.7 L894.8,389 L899.4,387.2 L903.9,385.2 L908.4,383.1 L912.7,380.9 L917,378.4 L921.2,375.9 L925.4,373.2 L929.4,370.4 L933.4,367.5 L937.2,364.4 L941,361.2 L944.6,357.9 L948.2,354.5 L951.6,350.9 L954.9,347.3 L958.1,343.5 L961.2,339.7 L964.1,335.7 L966.9,331.7 L969.6,327.5Z" fill="#808080"/>
<polygon points="695.7,354.2 705.6,331.3 731,333" fill="#808080"/>
<circle cx="841.7" cy="280.7" r="93.4" fill="url(#bulbG)" stroke="#4a4a4a" stroke-width="1.1"/>
<g clip-path="url(#bulbClip)"><rect x="748" y="190" width="60" height="95" fill="url(#bulbL)"/></g>
<path d="M802.3,146 L802.3,197 Q841,205 880,197 L880,146 Z" fill="url(#neckG)"/>
<path d="M802.3,197 Q841,205 880,197" fill="none" stroke="#c4c4c4" stroke-width="1.2"/>
<g clip-path="url(#liqClip)"><rect x="750" y="277.4" width="185" height="100" fill="url(#liqG)"/></g>
<ellipse cx="843" cy="277.4" rx="86.6" ry="8.3" fill="#ff0000"/>
<path d="M793.5,309.3 L793.6,308.7 L793.7,308.1 L793.7,307.4 L793.7,306.8 L793.8,306.3 L793.8,305.8 L793.9,305.3 L793.9,305 L794,304.8 L794.1,304.7 L794.1,304.7 L794.1,304.8 L794.2,304.7 L794.3,304.6 L794.5,304.5 L794.6,304.5 L794.8,304.4 L795,304.4 L795.2,304.3 L795.5,304.3 L795.9,304.3 L796.4,304.3 L796.9,304.4 L797.6,304.5 L798.3,304.6 L799.2,304.8 L800.1,305 L801.2,305.3 L802.3,305.6 L803.4,306 L804.6,306.4 L805.8,306.8 L807,307.3 L808.2,307.7 L809.4,308.3 L810.5,308.8 L811.7,309.4 L812.8,310 L814,310.7 L815.3,311.5 L816.6,312.3 L817.9,313.1 L819.2,314 L820.6,314.8 L822,315.7 L823.4,316.5 L824.8,317.3 L826.2,318.1 L827.6,318.8 L829,319.4 L830.4,320.1 L831.8,320.6 L833.1,321.2 L834.5,321.8 L835.8,322.3 L837.2,322.9 L838.5,323.4 L839.8,323.9 L841.1,324.4 L842.4,325 L844.6,325.3 L846.7,324.4 L848,322.6 L848.3,320.4 L847.4,318.3 L845.6,317 L844.2,316.5 L842.9,316 L841.5,315.5 L840.2,315 L838.8,314.5 L837.5,314 L836.2,313.5 L834.9,313.1 L833.6,312.5 L832.3,312 L831,311.5 L829.8,310.9 L828.5,310.3 L827.2,309.7 L825.9,308.9 L824.6,308.2 L823.2,307.4 L821.8,306.6 L820.5,305.8 L819.1,305 L817.7,304.3 L816.3,303.5 L814.9,302.8 L813.5,302.2 L812.1,301.7 L810.8,301.1 L809.4,300.6 L808,300.2 L806.7,299.8 L805.4,299.4 L804.1,299 L802.9,298.7 L801.7,298.5 L800.5,298.2 L799.5,298.1 L798.4,297.9 L797.5,297.8 L796.5,297.8 L795.6,297.9 L794.8,297.9 L794,298.1 L793.2,298.3 L792.4,298.6 L791.8,299 L791.1,299.4 L790.5,299.8 L790,300.3 L789.5,300.8 L789,301.6 L788.6,302.5 L788.4,303.3 L788.2,304.1 L788.2,304.8 L788.1,305.5 L788.1,306.1 L788.1,306.7 L788.2,307.3 L788.2,307.8 L788.2,308.2 L788.1,308.7 L788.3,310 L789.2,311.2 L790.5,311.7 L791.8,311.5 L793,310.6Z" fill="#993b0c"/>
<path d="M788.4,323.6 L788.6,323.1 L788.7,322.5 L788.7,322 L788.8,321.5 L788.8,321.1 L788.9,320.9 L788.9,320.7 L788.9,320.7 L788.9,320.7 L788.9,320.9 L788.8,321 L788.8,321.1 L788.9,321 L789.2,320.9 L789.6,320.8 L790,320.7 L790.6,320.6 L791.2,320.5 L791.8,320.5 L792.6,320.4 L793.4,320.4 L794.2,320.3 L795.2,320.3 L796.1,320.3 L797.2,320.3 L798.3,320.3 L799.5,320.3 L800.7,320.3 L802,320.4 L803.3,320.4 L804.7,320.5 L806.1,320.6 L807.5,320.7 L808.9,320.8 L810.3,320.9 L811.6,321.1 L813,321.3 L814.4,321.5 L815.8,321.7 L817.3,322 L818.8,322.3 L820.3,322.6 L821.8,322.9 L823.4,323.2 L824.9,323.5 L826.4,323.8 L827.9,324.1 L829.3,324.4 L830.7,324.7 L832.1,325 L833.4,325.3 L834.7,325.5 L836,325.8 L837.3,326.1 L838.7,326.4 L840,326.6 L841.3,326.9 L842.6,327.2 L843.9,327.5 L845.2,327.7 L847.4,327.6 L849.3,326.3 L850.2,324.3 L850.1,322.1 L848.8,320.2 L846.8,319.3 L845.5,319 L844.2,318.8 L842.8,318.6 L841.5,318.4 L840.2,318.1 L838.9,317.9 L837.6,317.7 L836.2,317.5 L834.9,317.2 L833.5,317 L832.1,316.8 L830.7,316.6 L829.3,316.3 L827.8,316.1 L826.3,315.9 L824.8,315.6 L823.2,315.4 L821.7,315.1 L820.1,314.9 L818.5,314.6 L817,314.4 L815.4,314.2 L813.9,314.1 L812.4,313.9 L810.9,313.8 L809.4,313.7 L807.9,313.6 L806.4,313.6 L805,313.5 L803.5,313.5 L802.1,313.5 L800.7,313.5 L799.4,313.6 L798.2,313.6 L797,313.6 L795.9,313.7 L794.8,313.8 L793.8,313.9 L792.9,313.9 L791.9,314.1 L791.1,314.2 L790.2,314.3 L789.4,314.5 L788.6,314.7 L787.8,314.9 L787.1,315.2 L786.4,315.5 L785.6,315.9 L784.9,316.5 L784.2,317.3 L783.7,318.1 L783.4,318.9 L783.3,319.6 L783.2,320.3 L783.2,320.8 L783.2,321.3 L783.2,321.7 L783.2,321.9 L783.2,322.1 L783.2,322.4 L783.2,323.8 L783.9,325 L785.2,325.6 L786.6,325.6 L787.8,324.9Z" fill="#993b0c"/>
<path d="M795,346.9 L795.6,346.3 L796.3,345.7 L796.8,345.1 L797.4,344.5 L797.9,343.9 L798.4,343.4 L798.9,342.9 L799.5,342.4 L800,341.9 L800.5,341.5 L801.1,341.1 L801.8,340.7 L802.5,340.2 L803.3,339.8 L804.1,339.4 L805,339 L805.9,338.6 L806.8,338.2 L807.8,337.8 L808.8,337.4 L809.9,337 L810.9,336.6 L812,336.3 L813.2,335.9 L814.3,335.6 L815.5,335.2 L816.7,334.9 L818,334.6 L819.2,334.3 L820.5,334 L821.9,333.7 L823.2,333.4 L824.6,333.1 L825.9,332.9 L827.3,332.7 L828.7,332.4 L830,332.2 L831.4,332.1 L832.9,331.9 L834.3,331.8 L835.8,331.6 L837.3,331.5 L838.8,331.4 L840.3,331.3 L841.8,331.2 L843.4,331 L844.9,330.9 L846.5,330.8 L848.5,330 L849.9,328.2 L850.3,326 L849.5,324 L847.7,322.6 L845.5,322.2 L844.1,322.4 L842.6,322.6 L841.1,322.7 L839.5,322.9 L838,323.1 L836.5,323.2 L834.9,323.4 L833.4,323.6 L831.9,323.8 L830.3,324 L828.8,324.3 L827.3,324.6 L825.8,324.9 L824.4,325.2 L823,325.5 L821.5,325.9 L820.1,326.2 L818.7,326.6 L817.3,327 L816,327.4 L814.6,327.8 L813.3,328.2 L812.1,328.6 L810.8,329.1 L809.7,329.5 L808.5,330 L807.3,330.5 L806.2,331 L805.1,331.5 L804,332 L803,332.5 L802,333 L801,333.6 L800,334.1 L799.1,334.7 L798.2,335.3 L797.4,336 L796.5,336.7 L795.8,337.4 L795.1,338.1 L794.5,338.7 L793.9,339.4 L793.4,340.1 L792.9,340.7 L792.4,341.3 L792,341.9 L791.5,342.5 L791,343.1 L790.3,344.3 L790.3,345.8 L791.1,347 L792.3,347.7 L793.8,347.7Z" fill="#993b0c"/>
<path d="M839.4,325.6 L840.6,325.1 L841.7,324.7 L842.8,324.3 L844,323.9 L845.1,323.5 L846.3,323.1 L847.5,322.7 L848.7,322.2 L849.9,321.7 L851.2,321.2 L852.4,320.7 L853.6,320.2 L854.8,319.6 L856,319 L857.3,318.3 L858.5,317.7 L859.7,317 L860.9,316.4 L862.1,315.7 L863.3,315 L864.5,314.2 L865.7,313.5 L866.8,312.8 L867.9,312 L869.1,311.2 L870.2,310.4 L871.3,309.5 L872.4,308.7 L873.5,307.8 L874.5,307 L875.5,306.1 L876.4,305.3 L877.3,304.6 L878.2,303.9 L879,303.2 L879.8,302.7 L880.5,302.1 L881.3,301.6 L882,301.2 L882.7,300.7 L883.3,300.3 L883.9,300 L884.5,299.6 L885,299.3 L885.5,299.1 L886,298.9 L886.3,298.7 L886.7,298.6 L886.8,298.6 L886.9,298.5 L886.9,298.5 L886.9,298.5 L887,298.5 L887.1,298.5 L887.3,298.6 L887.6,298.7 L887.9,298.9 L888.4,299.1 L888.9,299.3 L889.3,299.5 L890.7,299.6 L891.9,299 L892.7,297.9 L892.8,296.5 L892.2,295.3 L891.1,294.5 L890.8,294.4 L890.7,294.4 L890.5,294.2 L890.3,294.1 L890,293.8 L889.6,293.6 L889.1,293.3 L888.4,293.1 L887.7,292.9 L887,292.8 L886.1,292.9 L885.3,293 L884.6,293.2 L883.9,293.4 L883.2,293.6 L882.5,293.9 L881.8,294.2 L881,294.6 L880.3,295 L879.5,295.4 L878.7,295.8 L877.9,296.3 L877.1,296.8 L876.2,297.3 L875.3,298 L874.3,298.6 L873.3,299.3 L872.3,300.1 L871.3,300.9 L870.3,301.6 L869.2,302.4 L868.2,303.2 L867.1,303.9 L866.1,304.7 L865.1,305.3 L864.1,306 L863,306.6 L861.9,307.2 L860.8,307.8 L859.6,308.5 L858.5,309.1 L857.3,309.6 L856.2,310.2 L855,310.8 L853.8,311.3 L852.7,311.9 L851.5,312.4 L850.4,312.8 L849.3,313.3 L848.2,313.7 L847.1,314.1 L846,314.5 L844.8,314.9 L843.7,315.2 L842.5,315.6 L841.4,315.9 L840.2,316.3 L839,316.7 L837.8,317 L836.6,317.4 L834.7,318.7 L833.8,320.7 L833.9,322.9 L835.2,324.8 L837.2,325.7Z" fill="#993b0c"/>
<path d="M840.8,327.7 L842.5,327.4 L844.1,327 L845.8,326.7 L847.5,326.3 L849.2,326 L850.9,325.6 L852.6,325.3 L854.3,324.9 L856,324.5 L857.6,324.1 L859.3,323.7 L860.9,323.3 L862.6,322.8 L864.2,322.3 L865.8,321.8 L867.4,321.3 L869,320.8 L870.5,320.3 L872,319.7 L873.5,319.2 L874.9,318.7 L876.3,318.2 L877.7,317.8 L879,317.4 L880.3,316.9 L881.6,316.5 L882.8,316.1 L884.1,315.8 L885.3,315.4 L886.5,315 L887.7,314.6 L888.8,314.3 L889.9,313.9 L891,313.6 L892,313.2 L893,312.8 L893.9,312.5 L894.7,312.1 L895.5,311.7 L896.2,311.4 L896.8,311 L897.4,310.7 L897.9,310.4 L898.4,310 L898.9,309.7 L899.3,309.4 L899.8,309.1 L900.4,308.8 L901.4,307.9 L901.8,306.7 L901.5,305.3 L900.6,304.3 L899.4,303.9 L898,304.2 L897.4,304.4 L896.8,304.7 L896.2,305 L895.7,305.3 L895.2,305.5 L894.7,305.8 L894.2,306 L893.7,306.2 L893.1,306.4 L892.5,306.7 L891.8,306.9 L891,307.2 L890.1,307.4 L889.2,307.7 L888.2,307.9 L887.1,308.2 L886,308.5 L884.8,308.7 L883.6,309 L882.3,309.3 L881,309.6 L879.7,310 L878.4,310.3 L877,310.6 L875.6,311 L874.2,311.4 L872.7,311.9 L871.2,312.3 L869.8,312.8 L868.2,313.2 L866.7,313.7 L865.2,314.1 L863.7,314.6 L862.1,315 L860.6,315.4 L859.1,315.7 L857.5,316.1 L855.9,316.4 L854.3,316.7 L852.7,317 L851,317.3 L849.4,317.6 L847.7,317.8 L846,318.1 L844.3,318.4 L842.6,318.7 L840.9,319 L839.2,319.3 L837.2,320.3 L835.9,322.1 L835.8,324.3 L836.8,326.3 L838.6,327.6Z" fill="#993b0c"/>
<path d="M839.7,330.7 L841.4,330.8 L843,330.8 L844.7,330.9 L846.4,331 L848,331.1 L849.7,331.2 L851.4,331.3 L853.1,331.4 L854.8,331.4 L856.5,331.5 L858.3,331.5 L860,331.5 L861.7,331.4 L863.5,331.4 L865.2,331.3 L867,331.2 L868.7,331 L870.5,330.9 L872.2,330.7 L873.9,330.6 L875.6,330.4 L877.2,330.2 L878.8,330.1 L880.4,329.9 L881.9,329.7 L883.4,329.5 L884.9,329.2 L886.4,329 L887.8,328.7 L889.2,328.5 L890.6,328.2 L891.9,328 L893.2,327.7 L894.3,327.4 L895.5,327.2 L896.5,327 L897.5,326.7 L898.5,326.5 L899.3,326.3 L900.1,326 L900.8,325.8 L901.5,325.6 L902.1,325.4 L902.7,325.2 L903.3,325 L903.9,324.7 L904.5,324.5 L905.2,324.3 L906.4,323.7 L907.1,322.5 L907.1,321.2 L906.5,320 L905.3,319.3 L904,319.3 L903.3,319.4 L902.6,319.5 L901.9,319.6 L901.3,319.8 L900.7,319.9 L900,320 L899.4,320.1 L898.7,320.2 L898,320.3 L897.3,320.4 L896.4,320.5 L895.5,320.6 L894.4,320.8 L893.3,320.9 L892.1,321 L890.8,321.2 L889.5,321.3 L888.2,321.4 L886.8,321.6 L885.4,321.7 L884,321.8 L882.6,321.9 L881.1,322 L879.6,322.1 L878.1,322.2 L876.6,322.3 L875,322.3 L873.4,322.4 L871.7,322.5 L870,322.5 L868.3,322.5 L866.6,322.6 L865,322.6 L863.3,322.6 L861.6,322.5 L860,322.5 L858.4,322.5 L856.8,322.4 L855.2,322.3 L853.6,322.3 L851.9,322.1 L850.3,322 L848.6,321.9 L847,321.8 L845.3,321.7 L843.6,321.5 L841.9,321.4 L840.3,321.3 L837.9,321.8 L836.1,323.4 L835.3,325.7 L835.8,328.1 L837.4,329.9Z" fill="#993b0c"/>
<ellipse cx="840.9" cy="138.8" rx="45.5" ry="11.2" fill="none" stroke="#8c8c8c" stroke-width="3.2"/>
<ellipse cx="840.9" cy="139.6" rx="39.5" ry="7.6" fill="#f2f2f2" stroke="#9a9a9a" stroke-width="1.6"/>
<path d="M795.8,140 Q841,158 886,140" fill="none" stroke="#a8a8a8" stroke-width="2.2"/>
</g>
<rect x="1234.5" y="125.2" width="397.1" height="264.7" fill="none" stroke="#3a3a3a" stroke-width="1.4"/>
<line x1="1229.5" y1="125.2" x2="1234.5" y2="125.2" stroke="#3a3a3a" stroke-width="1.4"/>
<text x="1219.5" y="130.4" font-family="'Liberation Serif', 'Times New Roman', serif" font-size="17" text-anchor="end" fill="#111" textLength="45.9" lengthAdjust="spacingAndGlyphs">2.E+08</text>
<line x1="1229.5" y1="178.1" x2="1234.5" y2="178.1" stroke="#3a3a3a" stroke-width="1.4"/>
<text x="1219.5" y="183.3" font-family="'Liberation Serif', 'Times New Roman', serif" font-size="17" text-anchor="end" fill="#111" textLength="45.9" lengthAdjust="spacingAndGlyphs">2.E+08</text>
<line x1="1229.5" y1="231.1" x2="1234.5" y2="231.1" stroke="#3a3a3a" stroke-width="1.4"/>
<text x="1219.5" y="236.3" font-family="'Liberation Serif', 'Times New Roman', serif" font-size="17" text-anchor="end" fill="#111" textLength="45.9" lengthAdjust="spacingAndGlyphs">1.E+08</text>
<line x1="1229.5" y1="284" x2="1234.5" y2="284" stroke="#3a3a3a" stroke-width="1.4"/>
<text x="1219.5" y="289.2" font-family="'Liberation Serif', 'Times New Roman', serif" font-size="17" text-anchor="end" fill="#111" textLength="45.9" lengthAdjust="spacingAndGlyphs">8.E+07</text>
<line x1="1229.5" y1="337" x2="1234.5" y2="337" stroke="#3a3a3a" stroke-width="1.4"/>
<text x="1219.5" y="342.2" font-family="'Liberation Serif', 'Times New Roman', serif" font-size="17" text-anchor="end" fill="#111" textLength="45.9" lengthAdjust="spacingAndGlyphs">4.E+07</text>
<line x1="1229.5" y1="389.9" x2="1234.5" y2="389.9" stroke="#3a3a3a" stroke-width="1.4"/>
<text x="1219.5" y="395.1" font-family="'Liberation Serif', 'Times New Roman', serif" font-size="17" text-anchor="end" fill="#111" textLength="45.9" lengthAdjust="spacingAndGlyphs">0.E+00</text>
<text x="1596" y="151.7" font-family="'Liberation Serif', 'Times New Roman', serif" font-size="17.8" text-anchor="middle" fill="#111">VP</text>
<path d="M1235.0,389.1 L1236.0,389.0 L1237.0,389.1 L1238.0,389.0 L1239.0,388.9 L1240.0,388.8 L1241.0,389.1 L1242.0,389.0 L1243.0,389.1 L1244.0,388.9 L1245.0,389.0 L1246.0,388.9 L1247.0,388.8 L1248.0,388.9 L1249.0,388.8 L1250.0,388.8 L1251.0,389.0 L1252.0,388.8 L1253.0,388.9 L1254.0,388.9 L1255.0,388.9 L1256.0,388.8 L1257.0,388.9 L1258.0,389.0 L1259.0,388.9 L1260.0,388.8 L1261.0,389.0 L1262.0,389.0 L1263.0,389.0 L1264.0,388.8 L1265.0,388.9 L1266.0,389.0 L1267.0,388.9 L1268.0,389.0 L1269.0,389.2 L1270.0,389.3 L1271.0,389.1 L1272.0,389.2 L1273.0,389.3 L1274.0,389.4 L1275.0,389.3 L1276.0,389.3 L1277.0,389.4 L1278.0,389.4 L1279.0,389.4 L1280.0,389.3 L1281.0,389.4 L1282.0,389.5 L1283.0,389.5 L1284.0,389.4 L1285.0,389.5 L1286.0,389.5 L1287.0,389.4 L1288.0,389.6 L1289.0,389.4 L1290.0,389.5 L1291.0,389.3 L1292.0,389.3 L1293.0,389.3 L1294.3,389.3 L1295.0,385.2 L1295.6,382.3 L1296.2,380.6 L1296.9,380.0 L1297.6,380.6 L1298.2,382.3 L1298.9,385.2 L1299.5,389.3 L1301.0,389.3 L1302.0,389.3 L1303.0,389.0 L1304.0,389.2 L1305.0,389.0 L1306.0,389.0 L1307.0,389.0 L1308.0,389.0 L1309.0,389.0 L1310.0,389.1 L1311.0,389.1 L1312.0,389.0 L1313.0,389.0 L1314.0,389.0 L1315.0,389.0 L1316.0,388.8 L1317.0,389.0 L1318.0,388.7 L1319.0,388.8 L1320.0,388.8 L1321.0,388.8 L1322.0,388.9 L1323.0,388.7 L1324.0,388.7 L1325.0,388.8 L1326.0,388.9 L1327.0,388.8 L1328.0,388.8 L1329.0,388.8 L1330.0,388.8 L1331.0,388.9 L1332.0,389.0 L1333.0,389.0 L1334.0,389.1 L1335.0,389.1 L1336.0,389.0 L1337.0,389.0 L1338.0,389.0 L1339.0,389.0 L1340.0,389.2 L1341.0,389.3 L1342.0,389.2 L1343.0,389.1 L1344.0,389.2 L1345.0,389.3 L1346.0,389.3 L1347.0,389.4 L1348.0,389.5 L1349.0,389.5 L1350.0,389.3 L1351.0,389.4 L1352.0,389.5 L1353.0,389.4 L1354.0,389.6 L1355.0,389.5 L1356.0,389.3 L1357.0,389.4 L1358.0,389.4 L1359.0,389.5 L1360.0,389.3 L1361.0,389.2 L1362.0,389.4 L1363.0,389.5 L1364.0,389.5 L1365.0,389.5 L1366.0,389.1 L1367.0,389.3 L1368.0,389.1 L1369.0,389.3 L1370.0,389.3 L1371.0,389.1 L1372.0,389.0 L1373.0,389.2 L1374.0,389.2 L1375.0,388.9 L1376.0,389.1 L1377.0,388.9 L1378.0,389.1 L1379.0,388.9 L1380.0,388.8 L1381.0,388.8 L1382.0,389.0 L1383.0,388.8 L1384.0,389.0 L1385.0,388.9 L1386.0,388.9 L1387.0,388.7 L1388.2,389.3 L1389.4,343.4 L1389.7,342.4 L1390.0,343.4 L1391.2,389.3 L1392.3,389.3 L1392.7,388.0 L1393.1,387.1 L1393.5,386.5 L1393.9,386.3 L1394.3,386.5 L1394.7,387.1 L1395.1,388.0 L1395.5,389.3 L1397.0,388.8 L1398.0,388.9 L1399.0,389.0 L1399.8,389.3 L1400.2,387.0 L1400.7,385.3 L1401.1,384.3 L1401.5,384.0 L1401.9,384.3 L1402.3,385.3 L1402.8,387.0 L1403.2,389.3 L1404.0,388.9 L1405.0,388.9 L1406.0,389.2 L1407.0,389.2 L1408.0,389.2 L1409.0,389.2 L1410.0,389.3 L1411.0,389.1 L1412.0,389.2 L1413.0,389.2 L1414.0,389.4 L1415.0,389.2 L1416.0,389.3 L1417.0,389.4 L1418.2,389.3 L1420.1,374.7 L1420.4,373.7 L1420.8,374.7 L1422.6,389.3 L1424.0,389.5 L1425.0,389.4 L1426.2,389.3 L1426.7,387.8 L1427.1,386.8 L1427.5,386.1 L1428.0,385.9 L1428.5,386.1 L1428.9,386.8 L1429.3,387.8 L1429.8,389.3 L1431.0,389.4 L1432.0,389.5 L1433.0,389.2 L1434.0,389.3 L1435.0,389.5 L1436.0,389.4 L1437.0,389.2 L1438.0,389.4 L1439.0,389.3 L1440.0,389.2 L1441.0,389.1 L1442.0,389.1 L1443.0,389.1 L1444.0,389.1 L1445.4,389.3 L1445.8,387.5 L1446.2,386.2 L1446.5,385.5 L1446.9,385.2 L1447.3,385.5 L1447.7,386.2 L1448.0,387.5 L1448.4,389.3 L1450.0,389.0 L1451.0,389.0 L1452.0,388.9 L1453.0,389.0 L1454.0,389.0 L1455.0,388.9 L1456.0,389.0 L1457.0,388.8 L1458.0,388.7 L1459.0,388.8 L1460.0,388.8 L1461.0,388.9 L1462.0,389.0 L1463.0,388.9 L1464.0,388.9 L1465.0,388.8 L1466.0,389.0 L1467.0,389.0 L1468.0,388.8 L1469.0,389.0 L1470.0,389.0 L1471.0,388.8 L1472.0,389.1 L1473.0,389.2 L1474.0,389.0 L1475.0,389.1 L1476.0,389.1 L1477.0,389.3 L1478.0,389.2 L1479.0,389.4 L1480.0,389.3 L1481.0,389.2 L1482.0,389.4 L1483.0,389.4 L1484.0,389.1 L1485.0,389.2 L1486.0,389.4 L1487.0,389.3 L1488.0,389.3 L1489.0,389.4 L1490.0,389.3 L1491.0,389.5 L1492.0,389.3 L1493.0,389.6 L1494.0,389.3 L1495.0,389.4 L1496.0,389.4 L1497.0,389.4 L1497.9,389.3 L1500.1,159.1 L1500.4,158.1 L1500.8,159.1 L1502.9,389.3 L1504.0,389.4 L1505.0,389.4 L1506.0,389.1 L1507.0,389.3 L1508.0,389.4 L1509.0,389.1 L1510.0,389.2 L1511.0,389.0 L1512.0,389.1 L1513.0,389.1 L1514.0,389.1 L1515.0,389.1 L1516.0,388.9 L1517.0,388.9 L1518.0,388.8 L1519.0,388.8 L1520.0,389.0 L1521.0,388.7 L1522.0,388.7 L1523.0,388.9 L1524.0,388.8 L1524.9,389.3 L1526.4,374.3 L1526.7,373.3 L1527.0,374.3 L1528.5,389.3 L1530.0,389.0 L1531.0,388.8 L1532.0,388.8 L1533.0,388.8 L1534.0,388.8 L1535.0,388.7 L1536.0,389.0 L1537.0,388.9 L1538.0,388.9 L1539.0,388.9 L1540.3,389.3 L1541.1,374.3 L1541.4,373.3 L1541.8,374.3 L1542.5,389.3 L1544.6,389.3 L1544.9,388.5 L1545.2,387.9 L1545.5,387.5 L1545.8,387.4 L1546.1,387.5 L1546.4,387.9 L1546.7,388.5 L1547.0,389.3 L1548.0,389.3 L1549.0,389.3 L1550.0,389.4 L1551.0,389.4 L1552.0,389.4 L1553.0,389.3 L1554.0,389.3 L1555.0,389.2 L1556.0,389.4 L1557.0,389.2 L1558.0,389.4 L1559.0,389.3 L1560.0,389.4 L1561.0,389.4 L1562.0,389.5 L1563.0,389.3 L1564.0,389.3 L1565.0,389.5 L1566.0,389.4 L1567.0,389.2 L1568.0,389.5 L1569.0,389.4 L1570.0,389.3 L1571.0,389.5 L1572.0,389.2 L1573.0,389.3 L1574.0,389.2 L1575.0,389.2 L1576.0,389.1 L1577.0,389.3 L1578.0,389.2 L1579.0,389.3 L1580.0,389.1 L1581.0,389.1 L1582.0,388.9 L1583.0,388.9 L1584.0,389.1 L1585.0,389.2 L1586.0,389.1 L1587.0,389.1 L1588.0,388.8 L1589.0,388.9 L1590.0,388.9 L1591.0,388.9 L1592.0,389.0 L1593.0,388.9 L1594.0,388.7 L1595.0,388.7 L1596.0,388.8 L1597.0,388.9 L1598.0,388.7 L1599.0,388.9 L1600.0,388.8 L1601.0,388.9 L1602.0,388.9 L1603.0,388.9 L1604.0,388.9 L1605.0,389.1 L1606.0,388.9 L1607.0,389.0 L1608.0,388.9 L1609.0,388.9 L1610.0,388.9 L1611.0,389.1 L1612.0,389.1 L1613.0,389.0 L1614.0,389.1 L1615.0,389.3 L1616.0,389.0 L1617.0,389.4 L1618.0,389.1 L1619.0,389.3 L1620.0,389.3 L1621.0,389.1 L1622.0,389.3 L1623.0,389.3 L1624.0,389.4 L1625.0,389.2 L1626.0,389.3 L1627.0,389.4 L1628.5,389.3 L1628.9,388.1 L1629.2,387.2 L1629.6,386.7 L1630.0,386.5 L1630.4,386.7 L1630.8,387.2 L1631.1,388.1 L1631.5,389.3" fill="none" stroke="#000" stroke-width="1.6" stroke-linejoin="round"/>
<rect x="706.3" y="617.4" width="431.3" height="259.1" fill="none" stroke="#222" stroke-width="1.4"/>
<line x1="700" y1="876.5" x2="706.3" y2="876.5" stroke="#222" stroke-width="1.4"/>
<text x="687.7" y="883" font-family="'Liberation Serif', 'Times New Roman', serif" font-size="19.4" text-anchor="end" fill="#111">0</text>
<line x1="700" y1="833.3" x2="706.3" y2="833.3" stroke="#222" stroke-width="1.4"/>
<text x="687.7" y="839.8" font-family="'Liberation Serif', 'Times New Roman', serif" font-size="19.4" text-anchor="end" fill="#111">20</text>
<line x1="700" y1="790.1" x2="706.3" y2="790.1" stroke="#222" stroke-width="1.4"/>
<text x="687.7" y="796.6" font-family="'Liberation Serif', 'Times New Roman', serif" font-size="19.4" text-anchor="end" fill="#111">40</text>
<line x1="700" y1="747" x2="706.3" y2="747" stroke="#222" stroke-width="1.4"/>
<text x="687.7" y="753.5" font-family="'Liberation Serif', 'Times New Roman', serif" font-size="19.4" text-anchor="end" fill="#111">60</text>
<line x1="700" y1="703.8" x2="706.3" y2="703.8" stroke="#222" stroke-width="1.4"/>
<text x="687.7" y="710.3" font-family="'Liberation Serif', 'Times New Roman', serif" font-size="19.4" text-anchor="end" fill="#111">80</text>
<line x1="700" y1="660.6" x2="706.3" y2="660.6" stroke="#222" stroke-width="1.4"/>
<text x="687.7" y="667.1" font-family="'Liberation Serif', 'Times New Roman', serif" font-size="19.4" text-anchor="end" fill="#111">100</text>
<line x1="700" y1="617.4" x2="706.3" y2="617.4" stroke="#222" stroke-width="1.4"/>
<text x="687.7" y="623.9" font-family="'Liberation Serif', 'Times New Roman', serif" font-size="19.4" text-anchor="end" fill="#111">120</text>
<line x1="706.3" y1="876.5" x2="706.3" y2="882.7" stroke="#222" stroke-width="1.4"/>
<text x="706.3" y="906.9" font-family="'Liberation Serif', 'Times New Roman', serif" font-size="19.4" text-anchor="middle" fill="#111">0</text>
<line x1="745.5" y1="876.5" x2="745.5" y2="882.7" stroke="#222" stroke-width="1.4"/>
<text x="745.5" y="906.9" font-family="'Liberation Serif', 'Times New Roman', serif" font-size="19.4" text-anchor="middle" fill="#111">10</text>
<line x1="784.7" y1="876.5" x2="784.7" y2="882.7" stroke="#222" stroke-width="1.4"/>
<text x="784.7" y="906.9" font-family="'Liberation Serif', 'Times New Roman', serif" font-size="19.4" text-anchor="middle" fill="#111">20</text>
<line x1="823.9" y1="876.5" x2="823.9" y2="882.7" stroke="#222" stroke-width="1.4"/>
<text x="823.9" y="906.9" font-family="'Liberation Serif', 'Times New Roman', serif" font-size="19.4" text-anchor="middle" fill="#111">30</text>
<line x1="863.1" y1="876.5" x2="863.1" y2="882.7" stroke="#222" stroke-width="1.4"/>
<text x="863.1" y="906.9" font-family="'Liberation Serif', 'Times New Roman', serif" font-size="19.4" text-anchor="middle" fill="#111">40</text>
<line x1="902.3" y1="876.5" x2="902.3" y2="882.7" stroke="#222" stroke-width="1.4"/>
<text x="902.3" y="906.9" font-family="'Liberation Serif', 'Times New Roman', serif" font-size="19.4" text-anchor="middle" fill="#111">50</text>
<line x1="941.6" y1="876.5" x2="941.6" y2="882.7" stroke="#222" stroke-width="1.4"/>
<text x="941.6" y="906.9" font-family="'Liberation Serif', 'Times New Roman', serif" font-size="19.4" text-anchor="middle" fill="#111">60</text>
<line x1="980.8" y1="876.5" x2="980.8" y2="882.7" stroke="#222" stroke-width="1.4"/>
<text x="980.8" y="906.9" font-family="'Liberation Serif', 'Times New Roman', serif" font-size="19.4" text-anchor="middle" fill="#111">70</text>
<line x1="1020" y1="876.5" x2="1020" y2="882.7" stroke="#222" stroke-width="1.4"/>
<text x="1020" y="906.9" font-family="'Liberation Serif', 'Times New Roman', serif" font-size="19.4" text-anchor="middle" fill="#111">80</text>
<line x1="1059.2" y1="876.5" x2="1059.2" y2="882.7" stroke="#222" stroke-width="1.4"/>
<text x="1059.2" y="906.9" font-family="'Liberation Serif', 'Times New Roman', serif" font-size="19.4" text-anchor="middle" fill="#111">90</text>
<line x1="1098.4" y1="876.5" x2="1098.4" y2="882.7" stroke="#222" stroke-width="1.4"/>
<text x="1098.4" y="906.9" font-family="'Liberation Serif', 'Times New Roman', serif" font-size="19.4" text-anchor="middle" fill="#111">100</text>
<line x1="1137.6" y1="876.5" x2="1137.6" y2="882.7" stroke="#222" stroke-width="1.4"/>
<text x="1137.6" y="906.9" font-family="'Liberation Serif', 'Times New Roman', serif" font-size="19.4" text-anchor="middle" fill="#111">110</text>
<text x="922" y="934.9" font-family="'Liberation Serif', 'Times New Roman', serif" font-size="19.4" text-anchor="middle" fill="#111" word-spacing="3">Concentration (μg/mL)</text>
<text transform="translate(651.5,747.2) rotate(-90)" x="0" y="0" font-family="'Liberation Serif', 'Times New Roman', serif" font-size="19.4" text-anchor="middle" fill="#111" word-spacing="4">Clearance rate (100%)</text>
<polyline points="745.5,707.2 784.7,683 823.9,667.5 863.1,670.5 902.3,667.5 941.6,668.8 980.8,669.9 1020,668.6 1059.2,668.6 1098.4,664.5" fill="none" stroke="#3b9bd8" stroke-width="2.6" stroke-linejoin="round"/>
<path d="M745.5,700.3V714.1M742,700.3H749M742,714.1H749" stroke="#505050" stroke-width="1.2" fill="none"/>
<path d="M784.7,677.4V688.7M781.2,677.4H788.2M781.2,688.7H788.2" stroke="#505050" stroke-width="1.2" fill="none"/>
<path d="M823.9,661.4V673.5M820.4,661.4H827.4M820.4,673.5H827.4" stroke="#505050" stroke-width="1.2" fill="none"/>
<path d="M863.1,664.5V676.6M859.6,664.5H866.6M859.6,676.6H866.6" stroke="#505050" stroke-width="1.2" fill="none"/>
<path d="M902.3,662.3V672.7M898.8,662.3H905.8M898.8,672.7H905.8" stroke="#505050" stroke-width="1.2" fill="none"/>
<path d="M941.6,663.8V673.8M938.1,663.8H945.1M938.1,673.8H945.1" stroke="#505050" stroke-width="1.2" fill="none"/>
<path d="M980.8,664.3V675.5M977.3,664.3H984.3M977.3,675.5H984.3" stroke="#505050" stroke-width="1.2" fill="none"/>
<path d="M1020,662.1V675M1016.5,662.1H1023.5M1016.5,675H1023.5" stroke="#505050" stroke-width="1.2" fill="none"/>
<path d="M1059.2,662.1V675M1055.7,662.1H1062.7M1055.7,675H1062.7" stroke="#505050" stroke-width="1.2" fill="none"/>
<path d="M1098.4,662.7V666.2M1094.9,662.7H1101.9M1094.9,666.2H1101.9" stroke="#505050" stroke-width="1.2" fill="none"/>
<circle cx="745.5" cy="707.2" r="4" fill="#3b9bd8"/>
<circle cx="784.7" cy="683" r="4" fill="#3b9bd8"/>
<circle cx="823.9" cy="667.5" r="4" fill="#3b9bd8"/>
<circle cx="863.1" cy="670.5" r="4" fill="#3b9bd8"/>
<circle cx="902.3" cy="667.5" r="4" fill="#3b9bd8"/>
<circle cx="941.6" cy="668.8" r="4" fill="#3b9bd8"/>
<circle cx="980.8" cy="669.9" r="4" fill="#3b9bd8"/>
<circle cx="1020" cy="668.6" r="4" fill="#3b9bd8"/>
<circle cx="1059.2" cy="668.6" r="4" fill="#3b9bd8"/>
<circle cx="1098.4" cy="664.5" r="4" fill="#3b9bd8"/>
<polyline points="745.5,804.2 784.7,773.3 823.9,756 863.1,739.6 902.3,709.4 941.6,694.1 980.8,677.6 1020,675 1059.2,675 1098.4,672.2" fill="none" stroke="#ff0000" stroke-width="2.6" stroke-linejoin="round"/>
<path d="M745.5,798.6V809.8M742,798.6H749M742,809.8H749" stroke="#505050" stroke-width="1.2" fill="none"/>
<path d="M784.7,768.5V778M781.2,768.5H788.2M781.2,778H788.2" stroke="#505050" stroke-width="1.2" fill="none"/>
<path d="M823.9,751.3V760.8M820.4,751.3H827.4M820.4,760.8H827.4" stroke="#505050" stroke-width="1.2" fill="none"/>
<path d="M863.1,733.6V745.7M859.6,733.6H866.6M859.6,745.7H866.6" stroke="#505050" stroke-width="1.2" fill="none"/>
<path d="M902.3,706.1V712.6M898.8,706.1H905.8M898.8,712.6H905.8" stroke="#505050" stroke-width="1.2" fill="none"/>
<path d="M941.6,689.1V699M938.1,689.1H945.1M938.1,699H945.1" stroke="#505050" stroke-width="1.2" fill="none"/>
<path d="M980.8,674.4V680.9M977.3,674.4H984.3M977.3,680.9H984.3" stroke="#505050" stroke-width="1.2" fill="none"/>
<path d="M1020,672.5V677.6M1016.5,672.5H1023.5M1016.5,677.6H1023.5" stroke="#505050" stroke-width="1.2" fill="none"/>
<path d="M1059.2,672.5V677.6M1055.7,672.5H1062.7M1055.7,677.6H1062.7" stroke="#505050" stroke-width="1.2" fill="none"/>
<path d="M1098.4,669.7V674.8M1094.9,669.7H1101.9M1094.9,674.8H1101.9" stroke="#505050" stroke-width="1.2" fill="none"/>
<circle cx="745.5" cy="804.2" r="4" fill="#ff0000"/>
<circle cx="784.7" cy="773.3" r="4" fill="#ff0000"/>
<circle cx="823.9" cy="756" r="4" fill="#ff0000"/>
<circle cx="863.1" cy="739.6" r="4" fill="#ff0000"/>
<circle cx="902.3" cy="709.4" r="4" fill="#ff0000"/>
<circle cx="941.6" cy="694.1" r="4" fill="#ff0000"/>
<circle cx="980.8" cy="677.6" r="4" fill="#ff0000"/>
<circle cx="1020" cy="675" r="4" fill="#ff0000"/>
<circle cx="1059.2" cy="675" r="4" fill="#ff0000"/>
<circle cx="1098.4" cy="672.2" r="4" fill="#ff0000"/>
<polyline points="745.5,840.4 784.7,821 823.9,792.5 863.1,764.4 902.3,750.4 941.6,726.4 980.8,709.8 1020,698.2 1059.2,684.1 1098.4,685" fill="none" stroke="#a9a9a9" stroke-width="2.6" stroke-linejoin="round"/>
<path d="M745.5,834.8V846.1M742,834.8H749M742,846.1H749" stroke="#505050" stroke-width="1.2" fill="none"/>
<path d="M784.7,816.7V825.3M781.2,816.7H788.2M781.2,825.3H788.2" stroke="#505050" stroke-width="1.2" fill="none"/>
<path d="M823.9,788.2V796.8M820.4,788.2H827.4M820.4,796.8H827.4" stroke="#505050" stroke-width="1.2" fill="none"/>
<path d="M863.1,758.8V770.1M859.6,758.8H866.6M859.6,770.1H866.6" stroke="#505050" stroke-width="1.2" fill="none"/>
<path d="M902.3,744.8V756M898.8,744.8H905.8M898.8,756H905.8" stroke="#505050" stroke-width="1.2" fill="none"/>
<path d="M941.6,718.7V734.2M938.1,718.7H945.1M938.1,734.2H945.1" stroke="#505050" stroke-width="1.2" fill="none"/>
<path d="M980.8,702V717.6M977.3,702H984.3M977.3,717.6H984.3" stroke="#505050" stroke-width="1.2" fill="none"/>
<path d="M1020,691.7V704.6M1016.5,691.7H1023.5M1016.5,704.6H1023.5" stroke="#505050" stroke-width="1.2" fill="none"/>
<path d="M1059.2,679.8V688.4M1055.7,679.8H1062.7M1055.7,688.4H1062.7" stroke="#505050" stroke-width="1.2" fill="none"/>
<path d="M1098.4,679.8V690.2M1094.9,679.8H1101.9M1094.9,690.2H1101.9" stroke="#505050" stroke-width="1.2" fill="none"/>
<circle cx="745.5" cy="840.4" r="4" fill="#a9a9a9"/>
<circle cx="784.7" cy="821" r="4" fill="#a9a9a9"/>
<circle cx="823.9" cy="792.5" r="4" fill="#a9a9a9"/>
<circle cx="863.1" cy="764.4" r="4" fill="#a9a9a9"/>
<circle cx="902.3" cy="750.4" r="4" fill="#a9a9a9"/>
<circle cx="941.6" cy="726.4" r="4" fill="#a9a9a9"/>
<circle cx="980.8" cy="709.8" r="4" fill="#a9a9a9"/>
<circle cx="1020" cy="698.2" r="4" fill="#a9a9a9"/>
<circle cx="1059.2" cy="684.1" r="4" fill="#a9a9a9"/>
<circle cx="1098.4" cy="685" r="4" fill="#a9a9a9"/>
<polyline points="745.5,817.3 784.7,788.4 823.9,756.7 863.1,747.4 902.3,716.1 941.6,703.3 980.8,686.1 1020,678.7 1059.2,680.2 1098.4,680.2" fill="none" stroke="#00a651" stroke-width="2.6" stroke-linejoin="round"/>
<path d="M745.5,813V821.7M742,813H749M742,821.7H749" stroke="#505050" stroke-width="1.2" fill="none"/>
<path d="M784.7,781.9V794.9M781.2,781.9H788.2M781.2,794.9H788.2" stroke="#505050" stroke-width="1.2" fill="none"/>
<path d="M823.9,751.3V762.1M820.4,751.3H827.4M820.4,762.1H827.4" stroke="#505050" stroke-width="1.2" fill="none"/>
<path d="M863.1,740.5V754.3M859.6,740.5H866.6M859.6,754.3H866.6" stroke="#505050" stroke-width="1.2" fill="none"/>
<path d="M902.3,709.2V723M898.8,709.2H905.8M898.8,723H905.8" stroke="#505050" stroke-width="1.2" fill="none"/>
<path d="M941.6,696.4V710.2M938.1,696.4H945.1M938.1,710.2H945.1" stroke="#505050" stroke-width="1.2" fill="none"/>
<path d="M980.8,679.2V693M977.3,679.2H984.3M977.3,693H984.3" stroke="#505050" stroke-width="1.2" fill="none"/>
<path d="M1020,671.8V685.6M1016.5,671.8H1023.5M1016.5,685.6H1023.5" stroke="#505050" stroke-width="1.2" fill="none"/>
<path d="M1059.2,675.9V684.6M1055.7,675.9H1062.7M1055.7,684.6H1062.7" stroke="#505050" stroke-width="1.2" fill="none"/>
<path d="M1098.4,675.9V684.6M1094.9,675.9H1101.9M1094.9,684.6H1101.9" stroke="#505050" stroke-width="1.2" fill="none"/>
<circle cx="745.5" cy="817.3" r="4" fill="#00a651"/>
<circle cx="784.7" cy="788.4" r="4" fill="#00a651"/>
<circle cx="823.9" cy="756.7" r="4" fill="#00a651"/>
<circle cx="863.1" cy="747.4" r="4" fill="#00a651"/>
<circle cx="902.3" cy="716.1" r="4" fill="#00a651"/>
<circle cx="941.6" cy="703.3" r="4" fill="#00a651"/>
<circle cx="980.8" cy="686.1" r="4" fill="#00a651"/>
<circle cx="1020" cy="678.7" r="4" fill="#00a651"/>
<circle cx="1059.2" cy="680.2" r="4" fill="#00a651"/>
<circle cx="1098.4" cy="680.2" r="4" fill="#00a651"/>
<line x1="781.6" y1="632.2" x2="810.9" y2="632.2" stroke="#3b9bd8" stroke-width="2.6"/>
<circle cx="796.2" cy="632.2" r="3.8" fill="#3b9bd8"/>
<text x="814.1" y="638.6" font-family="'Liberation Serif', 'Times New Roman', serif" font-size="19.6" fill="#111">VC</text>
<line x1="854.9" y1="632.2" x2="884.2" y2="632.2" stroke="#ff0000" stroke-width="2.6"/>
<circle cx="869.5" cy="632.2" r="3.8" fill="#ff0000"/>
<text x="887.4" y="638.6" font-family="'Liberation Serif', 'Times New Roman', serif" font-size="19.6" fill="#111">VP</text>
<line x1="926.9" y1="632.2" x2="956.2" y2="632.2" stroke="#a9a9a9" stroke-width="2.6"/>
<circle cx="941.5" cy="632.2" r="3.8" fill="#a9a9a9"/>
<text x="959.4" y="638.6" font-family="'Liberation Serif', 'Times New Roman', serif" font-size="19.6" fill="#111">VL</text>
<line x1="999.2" y1="632.2" x2="1028.5" y2="632.2" stroke="#00a651" stroke-width="2.6"/>
<circle cx="1013.8" cy="632.2" r="3.8" fill="#00a651"/>
<text x="1031.7" y="638.6" font-family="'Liberation Serif', 'Times New Roman', serif" font-size="19.6" fill="#111">VB</text>
<g id="petri">
<defs><linearGradient id="wallG" x1="0" y1="0" x2="1" y2="0"><stop offset="0" stop-color="#b86c46"/><stop offset="0.5" stop-color="#c77c54"/><stop offset="1" stop-color="#c27650"/></linearGradient><linearGradient id="agarG" x1="0" y1="0" x2="0.3" y2="1"><stop offset="0" stop-color="#e3a88a"/><stop offset="1" stop-color="#dfa485"/></linearGradient></defs>
<ellipse cx="1402.3" cy="777.2" rx="177.4" ry="106.2" transform="rotate(-5.2 1402.3 777.2)" fill="url(#wallG)"/>
<ellipse cx="1402.3" cy="773.2" rx="177.4" ry="106.2" transform="rotate(-5.2 1402.3 773.2)" fill="url(#wallG)"/>
<ellipse cx="1402.3" cy="769.2" rx="177.4" ry="106.2" transform="rotate(-5.2 1402.3 769.2)" fill="url(#wallG)"/>
<ellipse cx="1402.3" cy="765.2" rx="177.4" ry="106.2" transform="rotate(-5.2 1402.3 765.2)" fill="url(#wallG)"/>
<ellipse cx="1402.3" cy="761.2" rx="177.4" ry="106.2" transform="rotate(-5.2 1402.3 761.2)" fill="#dedede" stroke="#c0c0c0" stroke-width="1.2"/>
<ellipse cx="1401.3" cy="763" rx="174.5" ry="102.5" transform="rotate(-5.2 1401.3 763)" fill="#f3f3f3"/>
<ellipse cx="1400.3" cy="765" rx="172" ry="99" transform="rotate(-5.2 1400.3 765)" fill="#dcdcdc"/>
<ellipse cx="1400.5" cy="760.5" rx="171" ry="91.5" transform="rotate(-5.2 1400.5 760.5)" fill="#cd7b4a"/>
<ellipse cx="1401" cy="766" rx="172" ry="88" transform="rotate(-5.2 1401 766)" fill="none" stroke="#e48c4e" stroke-width="3"/>
<ellipse cx="1404.5" cy="782.4" rx="172.5" ry="83.8" transform="rotate(-5.2 1404.5 782.4)" fill="#dc9c7c" stroke="#f0e2da" stroke-width="1.6"/>
<ellipse cx="1404.5" cy="769.4" rx="172.5" ry="83.8" transform="rotate(-5.2 1404.5 769.4)" fill="url(#agarG)"/>
<ellipse cx="1390.6" cy="712.8" rx="50" ry="21.8" transform="rotate(-4 1390.6 712.8)" fill="#f6f2f0"/>
<ellipse cx="1390.4" cy="713" rx="13.4" ry="7.8" transform="rotate(-4 1390.4 713)" fill="#b1b0b0"/>
<ellipse cx="1489" cy="741.1" rx="50.3" ry="22" transform="rotate(-4 1489 741.1)" fill="#f6f2f0"/>
<ellipse cx="1488.6" cy="740.3" rx="13.4" ry="8.3" transform="rotate(-4 1488.6 740.3)" fill="#b1b0b0"/>
<ellipse cx="1298.2" cy="762" rx="41.5" ry="17.7" transform="rotate(-4 1298.2 762)" fill="#f6f2f0"/>
<ellipse cx="1298.5" cy="761.9" rx="11" ry="7" transform="rotate(-4 1298.5 761.9)" fill="#b1b0b0"/>
<ellipse cx="1349.8" cy="810.5" rx="50.3" ry="22.1" transform="rotate(-4 1349.8 810.5)" fill="#f6f2f0"/>
<ellipse cx="1349.5" cy="809.8" rx="13.3" ry="8.7" transform="rotate(-4 1349.5 809.8)" fill="#b1b0b0"/>
<ellipse cx="1453.8" cy="794.4" rx="42" ry="17.7" transform="rotate(-4 1453.8 794.4)" fill="#f6f2f0"/>
<ellipse cx="1453.6" cy="793.8" rx="11.2" ry="6.6" transform="rotate(-4 1453.6 793.8)" fill="#b1b0b0"/>
</g>
<polygon points="249.9,297.8 283.4,297.8 283.4,328.1 300.8,328.1 266.5,359.9 232.2,328.1 249.9,328.1" fill="#7f7f7f" />
<polygon points="528,367.2 558.1,367.2 558.1,350.2 589.7,383 558.1,416.8 558.1,399.7 528,399.7" fill="#7f7f7f" />
<polygon points="1090,365.2 1120.1,365.2 1120.1,348.1 1151.8,380.6 1120.1,414.7 1120.1,397.7 1090,397.7" fill="#7f7f7f" />
<polygon points="1374.7,533.8 1407.6,533.8 1407.6,564.3 1425,564.3 1391.3,595.2 1358,564.3 1374.7,564.3" fill="#767272" stroke="#2e4b7c" stroke-width="1.6" stroke-linejoin="miter"/>
</svg></body></html>
